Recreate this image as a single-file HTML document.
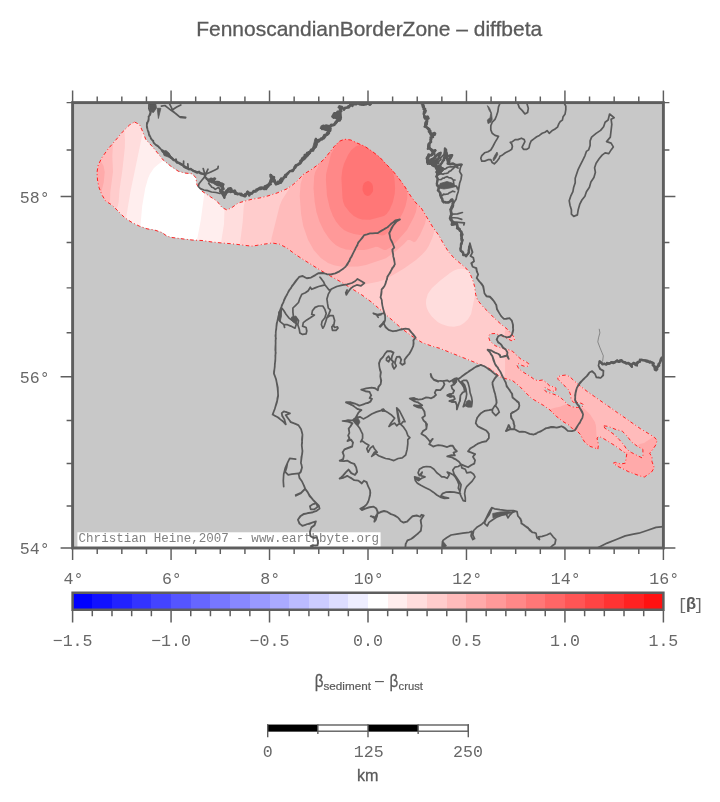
<!DOCTYPE html>
<html><head><meta charset="utf-8"><title>FennoscandianBorderZone – diffbeta</title>
<style>html,body{margin:0;padding:0;background:#fff}body{width:720px;height:802px;overflow:hidden;font-family:"Liberation Sans",sans-serif}</style>
</head><body>
<svg width="720" height="802" viewBox="0 0 720 802" style="display:block;will-change:transform">
<rect width="720" height="802" fill="#fff"/>
<rect x="72.6" y="102.60" width="590.8" height="445.40" fill="#c8c8c8"/>
<defs><clipPath id="rg"><path d="M134.5 122.0 139.5 124.5 142.5 131.2 145.8 139.5 152.0 146.2 158.2 153.8 163.2 160.0 170.8 166.2 178.2 171.2 184.5 173.0 192.0 173.8 195.8 177.5 197.0 185.0 202.0 191.2 209.5 196.2 217.0 201.2 222.0 207.5 227.0 210.0 232.0 207.5 238.2 203.0 247.0 200.5 252.0 199.2 259.5 198.0 267.0 196.2 277.0 193.0 287.0 188.8 293.2 184.5 298.2 180.0 303.2 174.5 310.8 170.0 318.2 164.5 324.5 158.8 329.5 152.5 334.5 146.2 339.5 141.2 344.5 139.2 350.8 140.0 357.0 143.0 364.5 146.2 372.0 151.2 379.5 157.0 385.8 163.8 392.0 170.0 398.2 177.5 404.5 186.2 410.8 196.2 416.0 203.0 421.1 207.8 427.0 217.5 432.8 227.2 438.6 235.0 443.5 243.8 448.3 251.5 454.2 258.3 460.0 263.2 465.8 268.0 469.7 272.9 472.6 279.7 474.6 286.5 475.6 294.3 477.5 300.0 482.5 306.2 488.8 312.5 495.0 318.8 501.2 324.4 507.5 329.4 511.2 333.8 514.4 337.5 514.4 340.0 511.2 340.6 506.2 338.1 501.2 335.6 495.0 333.5 490.0 333.8 488.5 336.9 490.0 341.2 495.0 345.6 501.2 348.1 507.5 349.4 512.5 351.2 516.2 355.0 521.2 359.4 526.2 361.9 528.8 363.8 528.1 366.2 525.0 366.5 521.2 365.2 518.1 363.5 516.9 365.0 518.8 368.8 523.8 372.5 530.0 376.2 535.0 380.0 538.8 380.6 542.5 380.0 546.2 382.5 550.0 386.2 555.0 386.9 556.0 388.8 555.6 391.2 552.5 391.2 548.8 389.8 545.0 387.5 543.8 389.0 546.2 391.9 552.5 393.8 557.5 395.6 561.2 398.1 565.0 401.9 568.1 405.0 572.5 406.9 577.5 407.5 581.9 406.9 583.8 405.6 582.5 403.8 578.8 402.5 573.8 402.5 571.2 400.0 570.6 395.0 568.8 390.0 565.0 386.2 561.2 382.5 558.1 379.4 557.5 376.9 561.2 375.6 566.2 375.0 570.0 376.9 573.8 380.6 580.2 386.0 587.1 391.4 594.7 396.7 602.4 402.1 610.0 407.4 617.6 412.8 625.3 418.1 632.9 423.5 640.6 428.8 648.2 433.4 654.3 437.2 657.1 440.3 655.8 444.9 652.8 449.4 649.7 453.3 652.0 457.1 652.0 461.7 654.3 467.8 651.3 472.4 646.7 475.4 644.4 477.0 640.6 476.2 634.4 473.9 628.3 471.6 622.2 468.5 617.6 466.3 613.1 463.2 615.4 462.4 620.7 464.0 625.3 463.2 626.0 458.6 626.8 454.0 622.2 451.0 616.1 446.4 610.0 442.6 603.9 438.8 599.3 436.5 597.0 438.0 598.5 444.9 597.8 449.4 594.7 447.9 590.1 446.4 585.6 443.3 582.5 438.8 580.2 434.2 576.4 430.4 573.3 429.6 568.8 425.0 562.5 421.2 556.2 416.2 550.0 410.0 543.8 405.6 537.5 401.9 531.2 398.1 525.0 391.9 518.8 385.6 512.5 380.6 506.2 378.8 500.0 376.9 494.2 371.7 488.3 367.8 478.6 363.9 468.9 360.0 459.2 356.1 449.4 352.2 439.7 348.3 432.0 346.2 422.0 342.5 412.0 336.2 402.0 328.8 392.0 320.0 382.0 311.2 372.0 302.5 362.0 295.0 352.0 288.8 342.0 282.5 332.0 277.0 322.0 271.2 312.0 265.0 302.0 258.8 294.5 253.8 287.0 248.0 279.5 244.2 272.0 243.0 262.0 244.5 252.0 246.2 242.0 245.0 232.0 243.8 222.0 243.0 212.0 242.0 202.0 240.5 192.0 240.0 182.0 238.8 172.0 237.5 167.0 236.2 162.0 232.5 154.5 230.0 147.0 228.8 139.5 226.2 132.0 222.5 124.5 217.5 118.2 211.2 112.0 205.0 105.8 201.2 102.0 195.0 99.0 187.5 97.5 180.0 97.0 172.5 98.2 165.0 102.0 157.5 108.2 148.8 115.8 140.0 123.2 131.2 129.5 125.0ZM603.9 425.8 608.5 426.5 616.1 429.6 622.2 431.1 626.8 435.7 631.4 441.8 637.5 446.4 642.9 449.4 642.9 455.6 642.1 457.9 637.5 455.6 631.4 452.5 626.8 449.4 623.8 444.9 619.2 439.5 614.6 434.9 608.5 430.4 604.7 428.1Z" clip-rule="evenodd"/></clipPath><clipPath id="mp"><rect x="72.6" y="102.6" width="590.8" height="445.4"/></clipPath></defs>
<g clip-path="url(#mp)">
<g clip-path="url(#rg)"><path d="M134.5 122.0 139.5 124.5 142.5 131.2 145.8 139.5 152.0 146.2 158.2 153.8 163.2 160.0 170.8 166.2 178.2 171.2 184.5 173.0 192.0 173.8 195.8 177.5 197.0 185.0 202.0 191.2 209.5 196.2 217.0 201.2 222.0 207.5 227.0 210.0 232.0 207.5 238.2 203.0 247.0 200.5 252.0 199.2 259.5 198.0 267.0 196.2 277.0 193.0 287.0 188.8 293.2 184.5 298.2 180.0 303.2 174.5 310.8 170.0 318.2 164.5 324.5 158.8 329.5 152.5 334.5 146.2 339.5 141.2 344.5 139.2 350.8 140.0 357.0 143.0 364.5 146.2 372.0 151.2 379.5 157.0 385.8 163.8 392.0 170.0 398.2 177.5 404.5 186.2 410.8 196.2 416.0 203.0 421.1 207.8 427.0 217.5 432.8 227.2 438.6 235.0 443.5 243.8 448.3 251.5 454.2 258.3 460.0 263.2 465.8 268.0 469.7 272.9 472.6 279.7 474.6 286.5 475.6 294.3 477.5 300.0 482.5 306.2 488.8 312.5 495.0 318.8 501.2 324.4 507.5 329.4 511.2 333.8 514.4 337.5 514.4 340.0 511.2 340.6 506.2 338.1 501.2 335.6 495.0 333.5 490.0 333.8 488.5 336.9 490.0 341.2 495.0 345.6 501.2 348.1 507.5 349.4 512.5 351.2 516.2 355.0 521.2 359.4 526.2 361.9 528.8 363.8 528.1 366.2 525.0 366.5 521.2 365.2 518.1 363.5 516.9 365.0 518.8 368.8 523.8 372.5 530.0 376.2 535.0 380.0 538.8 380.6 542.5 380.0 546.2 382.5 550.0 386.2 555.0 386.9 556.0 388.8 555.6 391.2 552.5 391.2 548.8 389.8 545.0 387.5 543.8 389.0 546.2 391.9 552.5 393.8 557.5 395.6 561.2 398.1 565.0 401.9 568.1 405.0 572.5 406.9 577.5 407.5 581.9 406.9 583.8 405.6 582.5 403.8 578.8 402.5 573.8 402.5 571.2 400.0 570.6 395.0 568.8 390.0 565.0 386.2 561.2 382.5 558.1 379.4 557.5 376.9 561.2 375.6 566.2 375.0 570.0 376.9 573.8 380.6 580.2 386.0 587.1 391.4 594.7 396.7 602.4 402.1 610.0 407.4 617.6 412.8 625.3 418.1 632.9 423.5 640.6 428.8 648.2 433.4 654.3 437.2 657.1 440.3 655.8 444.9 652.8 449.4 649.7 453.3 652.0 457.1 652.0 461.7 654.3 467.8 651.3 472.4 646.7 475.4 644.4 477.0 640.6 476.2 634.4 473.9 628.3 471.6 622.2 468.5 617.6 466.3 613.1 463.2 615.4 462.4 620.7 464.0 625.3 463.2 626.0 458.6 626.8 454.0 622.2 451.0 616.1 446.4 610.0 442.6 603.9 438.8 599.3 436.5 597.0 438.0 598.5 444.9 597.8 449.4 594.7 447.9 590.1 446.4 585.6 443.3 582.5 438.8 580.2 434.2 576.4 430.4 573.3 429.6 568.8 425.0 562.5 421.2 556.2 416.2 550.0 410.0 543.8 405.6 537.5 401.9 531.2 398.1 525.0 391.9 518.8 385.6 512.5 380.6 506.2 378.8 500.0 376.9 494.2 371.7 488.3 367.8 478.6 363.9 468.9 360.0 459.2 356.1 449.4 352.2 439.7 348.3 432.0 346.2 422.0 342.5 412.0 336.2 402.0 328.8 392.0 320.0 382.0 311.2 372.0 302.5 362.0 295.0 352.0 288.8 342.0 282.5 332.0 277.0 322.0 271.2 312.0 265.0 302.0 258.8 294.5 253.8 287.0 248.0 279.5 244.2 272.0 243.0 262.0 244.5 252.0 246.2 242.0 245.0 232.0 243.8 222.0 243.0 212.0 242.0 202.0 240.5 192.0 240.0 182.0 238.8 172.0 237.5 167.0 236.2 162.0 232.5 154.5 230.0 147.0 228.8 139.5 226.2 132.0 222.5 124.5 217.5 118.2 211.2 112.0 205.0 105.8 201.2 102.0 195.0 99.0 187.5 97.5 180.0 97.0 172.5 98.2 165.0 102.0 157.5 108.2 148.8 115.8 140.0 123.2 131.2 129.5 125.0ZM603.9 425.8 608.5 426.5 616.1 429.6 622.2 431.1 626.8 435.7 631.4 441.8 637.5 446.4 642.9 449.4 642.9 455.6 642.1 457.9 637.5 455.6 631.4 452.5 626.8 449.4 623.8 444.9 619.2 439.5 614.6 434.9 608.5 430.4 604.7 428.1Z" fill="#fff" fill-rule="evenodd"/>
<path d="M204.8 190.1 200.8 220.0 197.4 238.0 195.8 242.7 251.9 248.7 272.0 245.5 278.7 246.7 285.7 250.1 300.6 260.8 320.7 273.4 340.7 284.7 360.6 297.1 370.4 304.4 400.5 330.8 410.5 338.2 420.7 344.6 431.1 348.6 438.9 350.7 487.1 370.0 492.7 373.7 498.9 379.1 511.3 382.9 517.1 387.5 529.7 400.1 542.4 407.7 548.4 411.9 554.5 418.0 560.9 423.2 567.2 427.0 571.9 431.7 575.1 432.7 578.1 435.7 580.4 440.2 583.7 444.9 588.9 448.6 597.2 451.8 599.5 451.3 600.2 450.0 601.0 445.1 599.9 439.6 614.7 448.5 624.1 455.2 623.1 461.0 620.9 461.4 615.3 459.9 612.0 460.9 610.9 461.9 610.6 463.4 611.1 464.7 616.3 468.5 627.4 473.9 639.9 478.6 644.4 479.5 645.6 479.2 652.9 474.3 656.4 469.2 656.7 467.1 654.5 461.2 654.4 456.4 652.7 453.5 658.0 446.1 659.6 440.2 659.1 438.8 655.8 435.2 642.0 426.7 588.6 389.4 575.4 378.7 571.4 374.8 566.2 372.5 560.7 373.2 556.5 374.6 555.0 376.5 555.8 380.4 566.6 391.4 568.2 395.6 569.0 401.0 571.4 403.7 569.5 402.9 562.8 396.2 557.5 392.9 558.5 388.4 556.4 384.8 551.2 383.9 547.8 380.6 543.3 377.6 538.8 378.1 536.0 377.6 522.2 368.2 524.9 369.0 529.6 368.2 530.4 367.1 531.2 363.9 530.2 361.7 522.7 357.3 513.8 349.1 508.2 347.0 502.0 345.7 496.3 343.4 492.1 339.8 491.2 337.1 491.6 336.2 494.7 336.0 500.3 337.9 511.5 343.1 516.2 341.8 516.9 340.5 516.9 337.3 516.3 335.9 509.2 327.6 496.7 316.9 484.4 304.6 479.7 298.8 478.0 293.7 477.0 285.8 474.9 278.7 471.8 271.5 467.6 266.2 456.0 256.5 450.3 250.0 440.8 233.8 434.9 225.8 423.1 206.3 417.9 201.3 412.8 194.8 406.6 184.9 400.2 175.9 393.8 168.2 381.2 155.2 365.9 144.2 351.3 137.6 344.3 136.8 338.6 138.9 332.5 144.7 322.7 157.0 316.7 162.6 309.4 167.9 301.8 172.5 291.7 182.5 285.8 186.5 276.1 190.7 266.3 193.8 251.4 196.8 237.4 200.7 230.7 205.4 227.0 207.2 223.6 205.5 218.6 199.3ZM614.3 431.6 620.9 433.4 624.9 437.3 629.7 443.6 636.0 448.4 640.4 450.9 640.4 454.3 632.7 450.3 628.6 447.6 621.1 437.9ZM140.9 229.3 140.6 224.0 142.2 206.0 145.3 188.0 148.0 178.5 150.0 174.0 154.0 168.0 158.0 164.4 165.8 158.8 147.9 138.1 141.4 122.9 134.4 119.5 127.7 123.2 121.4 129.6 106.2 147.3 99.9 156.2 96.0 163.9 94.5 172.7 95.0 180.5 96.6 188.2 99.8 196.1 103.9 202.9 110.4 207.0 123.1 219.6 130.6 224.6 138.4 228.5Z" fill="rgb(255,238,238)" fill-rule="evenodd"/>
<path d="M224.6 206.0 224.0 224.0 220.6 245.4 251.9 248.7 272.0 245.5 278.7 246.7 285.7 250.1 300.7 260.9 320.7 273.4 340.7 284.7 360.6 297.1 370.4 304.4 400.5 330.8 410.5 338.2 420.7 344.6 431.1 348.6 438.9 350.7 487.1 370.0 492.7 373.7 498.9 379.1 511.3 382.9 517.1 387.5 529.7 400.1 542.4 407.7 548.4 411.9 554.5 418.0 560.9 423.2 567.2 427.0 571.9 431.7 575.1 432.7 578.1 435.7 580.4 440.2 583.7 444.9 588.9 448.6 597.2 451.8 599.5 451.3 600.2 450.0 601.0 445.1 599.9 439.6 614.7 448.5 624.1 455.2 623.1 461.0 620.9 461.4 615.3 459.9 612.0 460.9 610.9 461.9 610.6 463.4 611.1 464.7 616.3 468.5 627.4 473.9 639.9 478.6 644.4 479.5 645.6 479.2 652.9 474.3 656.4 469.2 656.7 467.1 654.5 461.2 654.4 456.4 652.7 453.5 658.0 446.1 659.6 440.2 659.1 438.8 655.8 435.2 642.0 426.7 588.6 389.4 575.4 378.7 571.4 374.8 566.2 372.5 560.7 373.2 556.5 374.6 555.0 376.5 555.8 380.4 566.6 391.4 568.2 395.6 569.0 401.0 571.4 403.7 569.5 402.9 562.8 396.2 557.5 392.9 558.5 388.4 556.4 384.8 551.2 383.9 547.8 380.6 543.3 377.6 538.8 378.1 536.0 377.6 522.2 368.2 524.9 369.0 529.6 368.2 530.4 367.1 531.2 363.9 530.2 361.7 522.7 357.3 513.8 349.1 508.2 347.0 502.0 345.7 496.3 343.4 492.1 339.8 491.2 337.1 491.6 336.2 494.7 336.0 500.3 337.9 511.5 343.1 516.2 341.8 516.9 340.5 516.9 337.3 516.3 335.9 509.2 327.6 496.7 316.9 484.4 304.6 479.7 298.8 478.0 293.7 477.0 285.8 474.9 278.7 471.8 271.5 467.6 266.2 456.0 256.5 450.3 250.0 440.8 233.8 434.9 225.8 423.1 206.3 417.9 201.3 412.8 194.8 406.6 184.9 400.2 175.9 393.8 168.2 381.2 155.2 365.9 144.2 351.3 137.6 344.3 136.8 338.6 138.9 332.5 144.7 322.7 157.0 316.7 162.6 309.4 167.9 301.8 172.5 291.7 182.5 285.8 186.5 276.1 190.7 266.3 193.8 251.4 196.8 237.4 200.7 230.7 205.4 227.0 207.2ZM614.3 431.6 620.9 433.4 624.9 437.3 629.7 443.6 636.0 448.4 640.4 450.9 640.4 454.3 632.7 450.3 628.6 447.6 621.1 437.9ZM125.6 221.3 130.4 192.0 143.7 127.9 141.2 122.7 134.7 119.5 133.2 119.9 127.7 123.2 121.4 129.6 106.2 147.3 99.9 156.2 96.0 163.9 94.5 172.4 95.0 180.2 96.6 188.2 99.8 196.1 103.6 202.5 110.4 207.0 122.9 219.4Z" fill="rgb(255,221,221)" fill-rule="evenodd"/>
<path d="M247.1 198.0 244.8 202.0 243.8 206.0 242.7 222.0 239.5 247.2 252.2 248.7 272.0 245.5 278.7 246.7 285.7 250.1 300.7 260.9 320.7 273.4 340.7 284.7 360.6 297.1 370.4 304.4 400.5 330.8 410.5 338.2 420.7 344.6 431.1 348.6 438.9 350.7 487.1 370.0 492.7 373.7 498.9 379.1 511.3 382.9 517.1 387.5 529.7 400.1 542.4 407.7 548.4 411.9 554.5 418.0 560.9 423.2 567.2 427.0 571.9 431.7 575.1 432.7 578.1 435.7 580.4 440.2 583.7 444.9 588.9 448.6 597.2 451.8 599.5 451.3 600.2 450.0 601.0 445.1 599.9 439.6 614.7 448.5 624.1 455.2 623.1 461.0 620.9 461.4 615.3 459.9 612.0 460.9 610.9 461.9 610.6 463.4 611.1 464.7 616.3 468.5 627.4 473.9 639.7 478.5 644.1 479.5 645.6 479.2 653.4 473.8 656.5 469.0 656.8 467.6 654.5 461.2 654.4 456.4 652.7 453.5 658.0 446.1 659.6 440.5 659.1 438.8 655.8 435.2 642.0 426.7 588.6 389.4 575.4 378.7 571.4 374.8 566.2 372.5 560.7 373.2 556.5 374.6 555.0 376.5 555.8 380.4 566.6 391.4 568.2 395.6 569.0 401.0 571.4 403.7 569.5 402.9 562.8 396.2 557.5 392.9 558.5 388.4 556.4 384.8 551.2 383.9 547.8 380.6 543.3 377.6 538.8 378.1 536.0 377.6 522.2 368.2 524.9 369.0 529.6 368.2 530.4 367.1 531.2 363.9 530.2 361.7 522.7 357.3 513.8 349.1 508.2 347.0 502.0 345.7 496.3 343.4 492.1 339.8 491.2 337.1 491.6 336.2 494.7 336.0 500.3 337.9 511.5 343.1 516.2 341.8 516.9 340.5 516.9 337.3 516.3 335.9 509.2 327.6 496.7 316.9 484.4 304.6 479.7 298.8 478.0 293.7 477.0 285.8 474.9 278.7 471.8 271.5 467.6 266.2 456.0 256.5 450.3 250.0 440.8 233.8 434.9 225.8 423.1 206.3 417.9 201.3 412.8 194.8 406.6 184.9 400.2 175.9 393.8 168.2 381.3 155.3 373.4 149.2 365.7 144.1 351.6 137.6 343.6 136.9 337.7 139.5 332.5 144.7 322.7 157.0 316.7 162.6 309.4 167.9 301.8 172.5 291.7 182.5 285.8 186.5 276.1 190.7 266.3 193.8ZM458.0 269.0 462.0 268.7 466.0 269.5 470.0 272.0 472.0 274.5 474.0 279.0 475.1 284.0 475.4 290.0 474.8 296.0 471.1 314.0 468.0 319.3 464.0 323.1 460.0 325.5 454.0 326.7 448.0 326.3 442.0 324.3 438.0 322.2 432.0 316.8 428.6 312.0 426.8 308.0 426.0 304.0 426.1 300.0 427.8 294.0 432.0 288.0 440.0 280.8 450.0 273.0 454.0 270.5ZM614.3 431.6 620.9 433.4 624.9 437.3 629.7 443.6 636.0 448.4 640.4 450.9 640.4 454.3 632.7 450.3 628.6 447.6 621.1 437.9ZM115.4 211.9 117.8 206.0 118.7 202.0 119.5 190.0 122.4 170.0 124.8 148.0 125.0 140.0 124.2 126.8 106.4 147.1 99.9 156.2 95.9 164.1 94.5 172.4 95.0 180.2 96.5 188.0 99.9 196.3 104.1 203.1 110.4 207.0Z" fill="rgb(255,204,204)" fill-rule="evenodd"/>
<path d="M506.5 325.4 504.8 332.0 504.8 340.2 510.8 343.1 515.6 342.2 516.9 340.5 516.6 336.3 509.2 327.6ZM505.0 346.3 505.1 374.0 503.3 380.5 511.3 382.9 517.1 387.5 529.7 400.1 542.4 407.7 548.4 411.9 554.5 418.0 560.9 423.2 567.2 427.0 571.9 431.7 575.1 432.7 578.1 435.7 580.4 440.2 583.7 444.9 588.9 448.6 597.2 451.8 599.5 451.3 600.2 450.0 601.0 445.1 599.9 439.6 614.7 448.5 624.1 455.2 623.1 461.0 620.9 461.4 615.3 459.9 612.0 460.9 610.9 461.9 610.6 463.4 611.1 464.7 616.3 468.5 627.4 473.9 639.7 478.5 644.1 479.5 645.6 479.2 653.2 474.0 656.8 467.8 654.5 461.2 654.4 456.4 652.7 453.5 658.0 446.1 659.6 440.5 659.1 438.8 656.0 435.4 642.0 426.7 588.6 389.4 575.4 378.7 571.4 374.8 566.2 372.5 560.7 373.2 556.5 374.6 555.0 376.5 555.8 380.4 566.6 391.4 568.2 395.6 569.0 401.0 571.4 403.7 569.5 402.9 562.8 396.2 557.5 392.9 558.5 388.4 556.4 384.8 551.2 383.9 547.8 380.6 543.3 377.6 538.8 378.1 536.0 377.6 522.2 368.2 524.9 369.0 529.6 368.2 530.4 367.1 531.2 364.1 530.4 361.9 527.6 359.8 522.7 357.3 513.6 349.0ZM614.3 431.6 620.9 433.4 624.9 437.3 629.7 443.6 636.0 448.4 640.4 450.9 640.4 454.3 632.7 450.3 628.6 447.6 621.1 437.9ZM108.5 205.8 110.1 200.0 110.3 192.0 113.0 172.0 112.3 156.0 113.0 144.0 112.8 139.6 106.2 147.3 99.9 156.2 95.9 164.1 94.5 172.4 95.0 180.2 96.5 188.0 99.8 196.1 104.1 203.1ZM290.0 184.0 288.4 190.0 282.0 200.0 279.6 206.0 271.6 238.0 270.8 245.7 278.7 246.7 285.7 250.1 300.7 260.9 320.8 273.4 346.1 288.0 378.0 281.8 384.0 280.0 388.0 277.9 404.0 268.4 416.0 260.0 422.6 254.0 426.2 250.0 428.7 246.0 432.3 238.0 435.7 226.9 423.1 206.3 417.9 201.3 412.8 194.8 406.6 184.9 400.2 175.9 393.8 168.2 381.0 155.0 365.7 144.1 351.6 137.6 344.3 136.8 337.9 139.3 332.5 144.7 322.7 157.0 316.7 162.6 309.4 167.9 301.6 172.6 296.5 178.2Z" fill="rgb(255,187,187)" fill-rule="evenodd"/>
<path d="M100.2 196.9 103.8 182.0 104.7 172.0 103.6 166.0 100.1 160.0 99.3 157.2 95.8 164.3 94.5 172.7 95.0 180.5 96.6 188.2ZM304.5 170.8 300.6 184.0 299.7 196.0 301.1 214.0 303.2 226.0 308.1 240.0 313.7 250.0 320.8 258.0 328.0 262.9 334.0 265.3 342.0 266.7 358.0 266.6 366.0 265.1 386.0 258.2 396.0 251.0 403.9 244.0 407.6 240.0 410.0 240.0 414.0 242.3 416.0 241.2 420.0 235.1 424.9 224.0 427.4 213.3 423.1 206.3 417.9 201.3 412.8 194.8 400.3 176.0 393.9 168.4 381.2 155.2 365.7 144.1 351.3 137.6 344.3 136.8 338.6 138.9 332.5 144.7 322.7 157.0 316.7 162.6ZM655.8 435.2 644.0 443.1 640.0 444.1 638.0 445.3 638.0 446.2 639.4 448.0 639.7 450.0 639.2 450.2 640.4 450.9 640.4 454.3 635.0 451.5 628.0 452.0 616.3 449.7 624.1 455.2 623.1 461.0 620.9 461.4 614.8 460.0 611.2 461.5 610.6 463.1 611.0 464.5 616.3 468.5 627.4 473.9 639.9 478.6 644.1 479.5 645.8 479.1 653.1 474.2 656.7 468.3 654.5 461.2 654.4 456.4 652.7 453.5 658.0 446.1 659.6 440.0 659.1 438.8ZM600.0 441.3 598.0 438.9 596.5 436.0 596.0 426.0 594.9 422.0 590.0 414.3 584.0 408.6 570.0 404.6 566.0 404.3 560.0 406.8 554.0 408.0 546.5 410.6 554.7 418.2 560.9 423.2 567.2 427.0 571.7 431.5 575.1 432.7 578.1 435.7 580.4 440.2 583.7 444.9 588.9 448.6 597.2 451.8 599.3 451.4 600.2 450.0 601.0 445.1Z" fill="rgb(255,170,170)" fill-rule="evenodd"/>
<path d="M320.6 159.0 319.6 164.0 315.2 172.0 314.2 176.0 313.5 188.0 314.7 202.0 316.4 212.0 319.6 222.0 324.0 231.1 328.7 238.0 332.0 241.8 336.0 245.2 340.0 247.5 346.0 249.5 352.0 250.1 364.0 250.0 368.0 249.3 376.0 246.7 378.0 247.0 384.0 250.0 386.0 250.0 390.0 247.7 396.3 242.0 407.0 230.0 413.4 218.0 415.9 212.0 416.7 208.0 416.9 200.1 412.8 194.8 406.6 184.9 400.2 175.9 393.8 168.2 381.0 155.0 365.7 144.1 351.3 137.6 344.3 136.8 338.1 139.2 332.5 144.7 322.7 157.0ZM655.2 471.0 646.0 476.6 642.0 477.6 637.3 477.6 640.1 478.6 645.1 479.4 652.9 474.3ZM585.1 446.0 582.0 438.6 580.0 436.5 577.1 434.6 583.5 444.7Z" fill="rgb(255,153,153)" fill-rule="evenodd"/>
<path d="M339.9 138.4 331.0 154.0 326.1 174.0 325.9 180.0 327.0 196.0 329.8 208.0 332.9 216.0 336.0 221.4 340.0 226.4 344.0 229.9 348.0 232.0 354.0 233.9 360.0 234.9 374.0 233.6 382.0 235.6 384.0 235.3 386.1 234.0 396.0 223.7 400.0 218.0 403.2 212.0 405.5 206.0 407.3 198.0 406.9 185.4 400.3 176.0 393.8 168.2 381.2 155.2 373.4 149.2 365.7 144.1 351.3 137.6 344.1 136.8Z" fill="rgb(255,136,136)" fill-rule="evenodd"/>
<path d="M363.7 143.2 356.0 146.2 351.3 150.0 348.0 154.9 343.9 164.0 342.3 170.0 341.4 178.0 342.5 198.0 343.2 202.0 344.8 206.0 349.5 212.0 353.8 216.0 358.0 218.3 362.0 219.5 370.0 219.8 384.0 215.9 386.6 214.0 389.5 210.0 392.9 202.0 394.7 194.0 395.1 188.0 394.4 178.0 391.5 166.0 381.3 155.3 365.7 144.1Z" fill="rgb(255,119,119)" fill-rule="evenodd"/>
<path d="M365.3 182.0 364.0 183.2 362.8 186.0 362.5 190.0 364.1 194.0 366.0 195.5 368.0 196.0 370.0 195.3 372.6 192.0 373.1 190.0 372.9 186.0 372.0 183.7 370.0 181.7 368.0 181.1Z" fill="rgb(255,102,102)" fill-rule="evenodd"/>
</g>
<path d="M134.5 122.0 139.5 124.5 142.5 131.2 145.8 139.5 152.0 146.2 158.2 153.8 163.2 160.0 170.8 166.2 178.2 171.2 184.5 173.0 192.0 173.8 195.8 177.5 197.0 185.0 202.0 191.2 209.5 196.2 217.0 201.2 222.0 207.5 227.0 210.0 232.0 207.5 238.2 203.0 247.0 200.5 252.0 199.2 259.5 198.0 267.0 196.2 277.0 193.0 287.0 188.8 293.2 184.5 298.2 180.0 303.2 174.5 310.8 170.0 318.2 164.5 324.5 158.8 329.5 152.5 334.5 146.2 339.5 141.2 344.5 139.2 350.8 140.0 357.0 143.0 364.5 146.2 372.0 151.2 379.5 157.0 385.8 163.8 392.0 170.0 398.2 177.5 404.5 186.2 410.8 196.2 416.0 203.0 421.1 207.8 427.0 217.5 432.8 227.2 438.6 235.0 443.5 243.8 448.3 251.5 454.2 258.3 460.0 263.2 465.8 268.0 469.7 272.9 472.6 279.7 474.6 286.5 475.6 294.3 477.5 300.0 482.5 306.2 488.8 312.5 495.0 318.8 501.2 324.4 507.5 329.4 511.2 333.8 514.4 337.5 514.4 340.0 511.2 340.6 506.2 338.1 501.2 335.6 495.0 333.5 490.0 333.8 488.5 336.9 490.0 341.2 495.0 345.6 501.2 348.1 507.5 349.4 512.5 351.2 516.2 355.0 521.2 359.4 526.2 361.9 528.8 363.8 528.1 366.2 525.0 366.5 521.2 365.2 518.1 363.5 516.9 365.0 518.8 368.8 523.8 372.5 530.0 376.2 535.0 380.0 538.8 380.6 542.5 380.0 546.2 382.5 550.0 386.2 555.0 386.9 556.0 388.8 555.6 391.2 552.5 391.2 548.8 389.8 545.0 387.5 543.8 389.0 546.2 391.9 552.5 393.8 557.5 395.6 561.2 398.1 565.0 401.9 568.1 405.0 572.5 406.9 577.5 407.5 581.9 406.9 583.8 405.6 582.5 403.8 578.8 402.5 573.8 402.5 571.2 400.0 570.6 395.0 568.8 390.0 565.0 386.2 561.2 382.5 558.1 379.4 557.5 376.9 561.2 375.6 566.2 375.0 570.0 376.9 573.8 380.6 580.2 386.0 587.1 391.4 594.7 396.7 602.4 402.1 610.0 407.4 617.6 412.8 625.3 418.1 632.9 423.5 640.6 428.8 648.2 433.4 654.3 437.2 657.1 440.3 655.8 444.9 652.8 449.4 649.7 453.3 652.0 457.1 652.0 461.7 654.3 467.8 651.3 472.4 646.7 475.4 644.4 477.0 640.6 476.2 634.4 473.9 628.3 471.6 622.2 468.5 617.6 466.3 613.1 463.2 615.4 462.4 620.7 464.0 625.3 463.2 626.0 458.6 626.8 454.0 622.2 451.0 616.1 446.4 610.0 442.6 603.9 438.8 599.3 436.5 597.0 438.0 598.5 444.9 597.8 449.4 594.7 447.9 590.1 446.4 585.6 443.3 582.5 438.8 580.2 434.2 576.4 430.4 573.3 429.6 568.8 425.0 562.5 421.2 556.2 416.2 550.0 410.0 543.8 405.6 537.5 401.9 531.2 398.1 525.0 391.9 518.8 385.6 512.5 380.6 506.2 378.8 500.0 376.9 494.2 371.7 488.3 367.8 478.6 363.9 468.9 360.0 459.2 356.1 449.4 352.2 439.7 348.3 432.0 346.2 422.0 342.5 412.0 336.2 402.0 328.8 392.0 320.0 382.0 311.2 372.0 302.5 362.0 295.0 352.0 288.8 342.0 282.5 332.0 277.0 322.0 271.2 312.0 265.0 302.0 258.8 294.5 253.8 287.0 248.0 279.5 244.2 272.0 243.0 262.0 244.5 252.0 246.2 242.0 245.0 232.0 243.8 222.0 243.0 212.0 242.0 202.0 240.5 192.0 240.0 182.0 238.8 172.0 237.5 167.0 236.2 162.0 232.5 154.5 230.0 147.0 228.8 139.5 226.2 132.0 222.5 124.5 217.5 118.2 211.2 112.0 205.0 105.8 201.2 102.0 195.0 99.0 187.5 97.5 180.0 97.0 172.5 98.2 165.0 102.0 157.5 108.2 148.8 115.8 140.0 123.2 131.2 129.5 125.0ZM603.9 425.8 608.5 426.5 616.1 429.6 622.2 431.1 626.8 435.7 631.4 441.8 637.5 446.4 642.9 449.4 642.9 455.6 642.1 457.9 637.5 455.6 631.4 452.5 626.8 449.4 623.8 444.9 619.2 439.5 614.6 434.9 608.5 430.4 604.7 428.1Z" fill="none" stroke="#ff1010" stroke-width="0.9" stroke-dasharray="3.6 2.4 0.9 2.4" stroke-linejoin="round"/>
<rect x="77.4" y="532.3" width="303.2" height="14.5" fill="#fff"/>
<text x="78.6" y="542.4" font-family="Liberation Mono, monospace" font-size="12.6" fill="#808080" textLength="300.5" lengthAdjust="spacingAndGlyphs">Christian Heine,2007 - www.earthbyte.org</text>
<path d="M149.0 103.5 148.9 108.3 150.3 112.5 148.9 116.7 148.2 120.8 146.8 125.0 147.5 129.2 148.9 134.0 151.0 138.2 153.8 142.4 155.8 145.1 159.3 147.2 162.1 150.7 164.9 153.5 168.3 154.9 171.1 156.9 173.9 159.7 177.4 162.5 180.8 164.6 184.3 166.0 187.8 168.1 191.9 170.1 196.1 171.5 200.3 172.9 204.4 174.3 205.3 175.4M149.3 103.5 148.9 105.1 149.1 106.7 148.8 108.3 149.5 110.4 150.8 112.7 150.2 114.8 148.5 116.6 148.8 118.8 148.5 120.9 146.9 122.7 146.8 125.0 146.8 127.2 147.5 129.2 147.8 130.8 148.8 132.3 148.8 134.1 149.2 135.6 150.3 136.8 150.8 138.4 151.7 139.7 153.3 140.7 153.5 142.6 154.7 143.8 155.9 144.9 157.8 145.7 159.0 147.5 160.7 148.9 161.9 150.9 163.2 152.4 164.9 153.5M161.4 106.2 164.9 105.5 167.6 107.6 171.1 110.4 175.3 113.2 179.4 116.7 185.7 117.4M171.6 110.0 175.9 113.9 180.2 117.3 185.5 118.0M172.5 109.7 176.7 107.0 180.8 104.9M169.7 104.2 171.8 108.3M183.6 161.1 183.6 165.3M187.8 163.9 188.2 168.0M203.2 168.5 204.6 173.3M208.0 169.2 206.0 173.3M176.0 159.0 177.0 163.0M204.4 175.0 207.2 173.6 210.8 171.9 215.0 169.9 217.8 168.5 218.2 166.4M205.3 176.1 201.8 180.3 199.0 183.8 198.3 186.5 200.4 188.6 203.9 190.0 208.0 190.7 211.5 192.0 216.0 192.5 220.0 193.5M208.0 180.3 214.3 178.2 212.2 181.7 216.4 184.4 219.9 183.0 223.3 184.4 222.6 187.9 219.9 191.4 223.3 194.2 224.0 197.6 225.4 194.2 226.8 190.7 229.6 188.6 231.7 192.0 234.4 190.7 235.8 193.5 239.3 194.2 242.8 194.9 245.6 196.2 246.9 192.0 249.0 194.9 251.8 193.5 253.9 191.4 256.7 190.0 260.1 188.6 263.6 187.9 266.4 189.3 267.8 185.8 269.9 183.0 271.9 180.3 270.6 174.7 273.3 177.5 274.7 181.7 276.8 184.4 278.9 181.7 281.0 183.0 282.4 178.9 285.8 176.8 287.9 173.3 290.0 171.2M208.7 183.3 209.7 184.7 210.8 185.8 211.8 187.2 213.6 187.8 215.3 189.4 218.4 187.4 220.0 189.4 221.0 191.3 223.0 191.4 223.8 193.2 225.8 191.6 227.5 192.6 228.9 191.6 230.5 192.4 232.0 192.0M211.8 181.9 213.5 182.3 215.3 181.6 217.5 181.5 219.1 181.9 218.7 184.3 220.1 184.9 220.4 186.6 222.3 186.7 222.4 188.6 224.0 189.0M261.6 188.3 264.1 189.5 264.5 186.5 266.8 187.3 267.0 185.2 268.4 184.3 271.2 184.4 270.3 181.7 271.8 181.4 273.7 181.6 275.4 182.2 277.0 183.0 277.7 181.4 280.0 182.2 279.9 179.6 281.4 179.1 283.0 179.0M290.0 171.2 293.6 169.4 296.4 166.0 299.2 163.9 301.9 160.4 304.7 156.9 307.5 153.5 311.0 151.4 314.4 148.6 316.5 144.4 315.8 138.9 317.9 141.7 321.4 138.9 324.9 135.4 328.3 132.6 330.4 129.9 325.6 129.2 321.4 128.5 323.5 126.4 328.3 126.4 331.8 125.7 335.3 123.6 338.0 120.8 340.8 118.0 336.7 117.4 332.5 116.7 334.6 113.9 338.0 112.5 341.5 111.1 339.4 106.2 343.6 109.0 347.0 107.6 350.6 105.6 353.3 104.2 357.5 103.5 361.7 104.9 365.8 104.2 371.0 103.6M270.0 181.9 272.8 177.8 271.4 175.0 275.6 184.7 278.3 183.3M422.5 103.5 423.2 106.9 425.3 110.4 423.9 113.9 424.6 118.0 428.0 116.7 426.7 120.8 425.3 125.7 428.0 127.8 429.4 131.2 430.8 134.7 435.0 133.3 431.5 137.5 430.8 141.7 428.8 144.4 428.0 147.9 430.8 148.6 432.2 151.4 435.7 150.7 432.2 154.2 429.4 155.6 428.0 159.0 427.4 163.2 429.4 161.8 432.2 159.7 435.0 156.9 437.8 154.9 440.6 152.8 438.5 156.9 437.1 161.1 435.7 165.3 437.8 168.0 439.9 165.3 441.9 162.5 444.0 158.3 444.7 154.2 444.7 148.6 446.8 152.8 447.5 156.9 448.9 155.6 451.7 154.9 450.3 158.3 448.9 161.1 447.5 163.9 450.3 164.6 453.0 163.9 457.2 165.3 461.7 164.6M428.3 154.2 426.9 158.3 426.9 162.5 431.1 163.9 435.3 166.7 437.4 170.8 436.7 175.0 437.4 179.2 436.7 183.3 438.8 186.8 438.0 190.3 440.8 193.0 440.8 197.2 442.9 200.7 445.7 202.8 449.9 201.4 452.6 199.3 453.3 203.5 451.9 206.9 450.6 211.1 451.9 214.6 450.6 218.0 452.6 221.5 451.9 225.0 456.1 223.6 457.5 227.8 460.3 230.6 461.7 234.7 462.2 240.0 461.5 244.0 460.8 246.7 460.8 250.8 463.6 254.3 466.4 256.4 468.5 252.2 469.2 246.7 469.9 243.2 471.2 248.0 472.6 252.2 470.6 255.7 473.3 257.8 474.0 261.2 471.2 263.3 472.6 266.8 476.1 268.2 476.8 271.7 478.2 274.4 476.8 277.9 478.9 280.7 481.0 283.5 483.0 286.2 483.8 289.7 484.4 293.2 486.5 296.0 490.0 296.7 492.1 298.8 494.2 301.5 496.2 305.0 496.9 309.2 499.0 312.6 501.1 316.1 503.9 318.9 506.2 318.8 509.4 318.1 511.9 320.6 513.1 325.0 513.1 330.0 511.9 334.4 510.0 336.9 506.9 337.5 503.8 336.2 501.2 335.0 498.1 336.2 496.9 339.4 498.1 342.5 501.2 344.4 503.1 347.5 505.6 349.4 507.5 352.5 506.9 355.0 508.8 358.8 506.9 355.5 503.8 356.2 500.6 357.2 500.0 355.0 498.1 353.8 495.0 352.5 491.2 350.6 487.5 349.8 490.0 352.5 492.5 356.2 493.8 360.0 495.0 363.8 497.5 367.5 500.0 371.2 501.9 375.0 503.8 378.8 505.6 382.5 506.9 386.2 509.4 390.0 511.9 393.8 512.5 397.5 515.6 400.0 518.8 402.5 519.4 405.6 518.5 408.9 514.3 411.7 510.8 413.8 511.5 417.9 513.6 421.4 514.3 425.6 514.3 429.0 510.8 429.0 506.0 431.1 508.8 424.9 510.8 429.0 514.3 429.0 519.2 431.8 524.7 431.8 529.6 433.9 533.8 434.6 537.9 432.5 542.1 430.4 546.2 428.3 551.1 426.9 556.7 427.6 561.5 426.2 565.0 428.3 567.8 430.8 571.9 431.1 574.7 430.4 576.8 426.9 579.6 422.8 582.4 417.9 583.1 414.4 581.0 410.3 578.9 406.1 576.1 402.6 574.9 400.0 575.6 393.3 576.9 387.8 579.7 383.6 583.2 379.4 586.7 376.0 589.4 372.5 592.2 371.1 595.0 373.9 596.4 377.4 600.6 378.0 603.3 375.3 603.3 371.1 599.9 369.0 598.5 365.6 599.2 362.1 602.6 363.5 606.1 364.2 609.6 362.8 613.1 362.1 617.2 361.4 621.4 361.1 625.6 362.1 629.0 364.2 631.1 366.2 633.2 363.5 636.7 365.6 638.1 362.1 641.5 359.3 645.7 360.7 649.9 362.1 653.3 363.5 654.7 368.3 656.1 370.4 658.9 365.6 661.0 360.7 663.4 357.0M599.1 362.2 600.8 363.0 602.5 364.1 604.4 363.4 606.2 364.5 608.1 364.2 609.8 363.6 611.2 361.8 613.2 362.4 615.2 362.0 617.2 361.4 619.4 362.2 621.4 361.2 623.5 361.5 625.1 362.9 627.2 363.4 629.3 363.9 630.8 366.0 632.1 364.9 633.7 362.7 634.8 364.7 637.1 365.8 637.3 363.8 638.5 362.6 640.3 361.4 641.5 359.4 643.5 360.3 645.9 360.0 648.1 360.6 649.5 363.0 651.8 362.4 653.9 363.3 653.0 365.3 653.8 366.8 655.3 367.9 655.8 370.2 656.6 368.5 657.6 367.0 658.0 365.2 659.6 364.0 659.9 362.2 660.8 360.6 661.7 358.5 663.4 357.0M469.9 243.2 470.5 245.6 471.0 248.1 471.6 250.2 472.3 252.0 471.7 254.0 470.4 256.0 473.4 257.8 474.1 261.4 471.6 263.2 472.6 266.8 476.4 268.1 477.0 271.6 478.1 274.4 476.6 278.0 478.7 280.8 481.3 283.3 483.3 286.2 483.9 289.7 484.4 293.2 486.4 296.3 489.8 296.9 491.8 299.0 494.1 301.5 495.1 303.3 496.4 305.0 496.7 307.1 497.1 309.1 499.0 312.6 500.0 314.4 501.1 316.1 503.9 318.8 506.2 318.7 509.5 318.0 511.7 320.7 512.4 322.8 512.9 325.0 512.9 327.5 513.3 330.0 512.8 332.3 512.0 334.5 509.9 336.6 507.0 337.3 503.7 336.3 501.2 334.8 498.2 336.3 496.6 339.5 498.3 342.2 501.1 344.5 502.9 347.8 505.7 349.4 507.5 352.5 507.2 354.9 508.0 356.8 508.6 358.9 506.9 355.7 503.8 356.6 500.4 357.2 499.8 355.3 498.1 353.7 495.0 352.6 493.0 351.7 491.3 350.3 487.6 349.6 490.0 352.5 491.0 354.6 492.3 356.3 493.4 360.1 494.9 363.8 496.0 365.8 497.8 367.3 498.6 369.5 500.1 371.2 501.1 373.1 501.7 375.1 502.7 377.0 503.9 378.7 504.8 380.6 505.8 382.4 506.6 386.4 508.1 388.2 509.6 389.9 510.6 391.9 512.2 393.7 512.6 397.4 515.6 400.0 516.9 401.5 518.5 402.6 519.4 405.6 518.4 408.7 516.5 410.5 514.2 411.6 512.3 412.4 511.1 413.7 510.8 415.9 511.2 418.1 512.6 419.6 513.4 421.4 513.6 423.6 514.6 425.6 514.3 429.0 510.8 428.9 508.3 429.8 505.8 431.0 507.1 429.1 508.0 427.0 508.5 425.0 509.6 427.0 510.8 429.3 514.3 429.1 516.7 430.4 519.2 431.8 522.0 431.7 524.7 431.8 527.2 432.8 529.6 433.8 531.7 434.0 533.7 434.5 536.0 433.9 537.8 432.4 540.2 431.8 542.2 430.6 544.2 429.3 546.2 428.1 548.8 427.9 551.1 427.3 553.9 427.1 556.7 427.7 559.2 427.1 561.5 426.3 563.4 427.0 565.1 428.1 567.8 431.0 569.8 431.1 571.9 431.2 574.5 430.3 576.0 428.8 577.0 427.0 578.2 424.8 579.8 422.9 580.9 420.3 582.4 417.9 583.1 414.4 582.4 412.2 581.3 410.1 579.8 408.3 579.1 406.0 577.4 404.5 576.4 402.5 575.2 400.0 575.3 397.8 575.0 395.5 575.4 393.3 576.0 390.5 576.9 387.8 578.0 385.5 579.4 383.4 581.2 381.3 583.4 379.6 585.0 377.8 586.9 376.2 588.3 374.5 589.4 372.5 592.0 371.3 595.0 373.9 596.4 377.5 598.5 377.4 600.6 378.0 603.0 375.3 603.3 373.2 603.5 370.8 600.3 368.9 598.5 365.6M449.9 163.9 454.7 164.6 461.7 164.6 460.3 168.0 459.6 171.5 461.7 175.0 461.0 179.2 459.6 183.3 458.9 187.5 458.2 191.7 456.8 195.8 456.1 199.3 453.3 203.5M437.9 174.8 439.5 174.1 441.1 173.6 443.0 174.3 444.6 173.5 446.2 173.4 447.9 173.0 449.0 171.6 450.8 170.8 452.0 169.5 453.6 168.4 454.7 166.7M438.1 187.8 439.1 186.0 440.7 186.3 442.0 185.8 443.7 186.7 445.3 186.2 447.0 186.3 448.1 184.1 450.0 184.5 451.8 184.1 453.3 185.0 454.7 186.1 456.4 186.2 457.1 187.5 457.5 188.9M440.5 194.9 442.3 195.7 443.4 194.2 445.0 194.3 446.5 194.2 448.0 194.0 449.2 192.8 450.6 192.4 452.5 191.1 454.7 191.7M453.3 179.9 454.0 186.1M445.0 151.4 446.4 158.3 447.8 162.5M433.9 150.0 435.3 156.9 438.0 163.9M450.6 155.6 447.8 161.1M451.0 214.2 457.5 213.9 462.4 212.5M451.0 217.5 457.5 218.0 461.7 219.4M452.5 222.0 456.1 222.2 464.4 222.9 463.8 225.0M438.1 165.8 439.4 166.9 440.4 168.2 442.5 167.8 443.9 168.7 444.5 169.2 446.0 168.5 447.3 167.5 448.9 167.0 450.6 166.8 451.7 166.9 453.4 166.9 455.1 166.8 456.6 167.3 458.0 168.0M439.8 179.6 441.4 179.5 442.5 178.2 444.1 178.2 445.3 177.2 447.3 176.6 448.7 177.6 450.4 177.8 451.9 178.6 453.3 180.0 455.0 180.0M438.7 163.4 438.6 161.6 439.7 160.6 440.9 159.6 440.5 157.7 441.8 156.8 442.6 155.6 444.0 154.7 444.9 152.7 445.3 153.9 445.3 155.4 444.9 157.0 445.5 158.5 447.5 158.5 447.4 160.6 449.0 161.0M499.9 103.5 498.5 106.9 497.8 111.8 496.4 116.0 495.0 119.4 492.2 122.2 490.8 125.7 490.8 129.9 492.2 133.3 495.0 135.4 498.5 136.4 497.1 138.9 495.0 142.4 492.9 146.5 490.8 150.0 488.0 151.7 484.6 152.8 481.8 155.6 480.8 158.3 481.8 161.1 484.6 161.1 488.0 159.7 490.8 159.7 492.2 162.5 494.3 163.9 497.1 161.1 499.2 158.3 499.9 156.2 502.6 154.9 505.4 152.8 508.9 151.1 511.7 149.3 512.4 146.5 511.7 143.8 510.3 142.4 512.4 141.7 515.1 139.6 517.9 139.6 521.4 138.2 524.2 139.6 524.9 141.7 523.5 144.4 522.1 147.2 523.5 149.3 526.9 149.3 529.0 147.9 529.7 144.4 531.1 141.0 533.9 138.9 536.7 136.8 539.4 135.4 542.2 133.3 545.0 132.2 547.1 130.6 549.2 133.3 551.9 130.8 554.7 129.2 557.5 127.1 558.9 123.6 560.3 121.5 562.4 120.1 563.1 116.7 565.1 113.9 565.8 109.7 565.8 106.2 564.4 103.5M517.9 103.6 519.3 107.6 522.1 110.4 524.9 113.9 527.6 112.5 528.3 108.3 526.9 103.6M609.6 114.0 614.1 117.7 611.1 119.2 611.8 124.4 611.1 130.4 610.3 137.1 606.6 141.6 611.1 143.1 613.3 146.9 611.1 149.9 608.8 153.6 605.1 152.9 602.1 155.1 599.1 158.8 596.1 163.3 594.6 167.8 595.4 172.3 593.9 177.5 590.9 182.0 589.4 187.2 586.4 191.7 584.9 196.2 581.9 200.0 579.7 204.4 578.2 209.7 577.4 214.9 573.7 216.4 571.4 214.2 571.4 209.7 570.0 205.2 569.2 200.7 570.7 196.2 572.9 191.7 573.7 187.2 575.2 182.8 575.2 178.3 576.7 173.8 578.2 169.3 580.4 164.8 582.7 160.3 584.9 155.8 586.4 151.4 588.6 149.9 590.1 145.4 590.1 140.9 591.6 137.1 596.1 133.4 600.6 130.4 603.6 126.7 605.1 122.2 608.1 120.0ZM314.4 548.0 310.7 546.0 312.9 545.3 317.4 545.3 318.1 540.8 316.6 537.0 313.7 537.8 310.7 536.3 309.9 531.8 311.4 527.3 314.4 525.1 315.9 521.3 311.4 522.8 306.9 524.3 302.4 525.8 299.4 523.6 297.9 519.8 300.2 516.1 303.9 513.8 308.4 513.1 312.9 512.3 316.6 510.8 319.6 508.6 318.9 505.6 315.9 502.6 312.9 499.6 309.9 495.9 307.7 492.1 305.4 489.1 303.9 485.4 301.7 480.9 299.4 477.9 298.7 474.2 300.9 471.9 302.1 467.4 300.9 462.9 301.7 456.9 302.4 451.0 301.7 445.0 302.2 440.0 302.5 434.7 301.1 429.2 298.3 425.0 294.9 423.6 290.7 422.2 289.3 420.1 285.8 415.3 290.0 413.2 283.8 411.4 281.7 413.2 282.4 416.0 284.4 419.4 285.8 424.3 283.8 422.2 280.3 419.4 276.8 416.7 272.6 414.6 274.7 409.0 276.8 402.8 278.2 395.8 277.5 387.5 276.1 379.2 274.0 373.6 274.7 366.7 275.4 358.3 275.6 350.0 275.6 342.8 275.8 331.7 276.9 323.3 278.3 316.4 280.4 309.4 283.2 302.5 286.7 294.9 290.8 287.9 295.0 282.4 299.2 276.8 302.6 276.1 306.8 278.2 311.0 277.5 314.4 275.4 318.6 273.3 322.8 273.1 326.9 274.0 331.1 274.7 335.3 273.3 339.4 271.2 343.6 268.5 347.1 265.0 352.5 254.4 358.3 242.8 364.2 235.0 370.0 233.5 377.8 233.0 387.5 227.2 395.3 220.4 400.0 219.4 396.5 221.5 393.3 225.3 389.4 233.0 390.4 238.9 392.5 243.0 394.3 247.6 392.5 249.5 393.3 256.4 394.9 264.2 391.4 270.0 387.5 276.8 385.6 283.6 384.5 286.0 381.7 289.4 380.7 297.2 381.7 300.0 382.4 305.6 383.8 311.1 385.1 315.3 385.1 320.1 383.8 323.6 385.8 327.1 388.6 329.9 392.8 331.2 396.9 330.8 401.1 329.4 405.3 328.5 408.8 329.2 410.8 331.9 413.6 334.7 415.7 337.5 413.6 340.3 413.3 345.8 411.5 350.0 409.4 353.5 406.7 356.9 404.6 359.7 404.6 363.2 402.5 364.6 400.4 363.2 401.1 359.7 399.7 356.9 396.9 356.9 395.6 359.7 394.9 363.2 396.2 366.0 394.2 368.8 392.8 366.7 392.1 363.9 393.5 361.8 391.4 359.7 392.1 356.2 393.5 352.8 390.7 351.4 387.2 351.4 385.1 353.5 383.1 356.9 380.3 359.7 378.9 363.2 379.6 368.0 381.0 372.2 380.3 376.4 381.0 380.6 380.7 384.2 378.6 386.9 377.9 390.4 375.1 388.3 371.7 387.6 366.1 388.3 361.2 389.7 365.4 391.1 369.6 391.8 371.0 395.3 369.6 398.1 371.7 398.8 370.3 401.5 367.5 402.9 363.3 404.3 359.2 405.7 355.0 403.6 350.8 402.2 346.0 402.2 350.8 404.3 355.0 407.1 357.8 409.2 361.2 409.9 358.5 412.6 357.1 415.4 355.7 418.2 352.9 420.3 348.1 420.3 342.5 421.0 348.1 421.7 352.2 423.1 350.8 425.8 348.8 428.6 349.4 432.8 348.1 435.6 349.4 438.3 347.4 441.1 350.8 439.7 352.9 442.5 352.2 446.7 348.1 448.1 344.6 449.4 342.5 452.2 343.9 455.7 343.2 459.2 339.7 460.6 343.9 461.2 347.2 460.6 350.7 462.6 354.2 464.0 356.2 467.5 356.9 471.7 354.9 475.1 351.4 473.1 348.6 469.6 345.8 472.4 343.1 475.8 339.6 478.6 343.1 477.9 347.2 475.8 350.7 477.9 354.2 480.0 358.3 480.7 361.8 483.5 363.9 480.7 366.7 482.1 368.1 486.2 370.1 490.4 370.1 495.3 368.8 500.1 366.7 504.3 363.9 507.1 360.4 508.5 361.8 509.9 365.3 508.5 369.4 507.1 373.6 506.7 376.4 508.5 377.8 511.9 377.1 516.1 375.7 519.6 374.3 521.7 375.0 518.2 370.8 516.1 375.0 517.5 377.8 513.3 380.6 511.9 384.0 510.8 387.5 511.9 391.0 514.0 394.4 515.4 397.9 517.5 400.7 521.0 403.5 522.4 406.9 521.7 409.7 518.9 412.5 516.1 416.7 515.4 420.1 516.8 421.5 514.7 423.6 515.4 422.2 517.5 420.8 520.3 421.5 525.8 420.8 530.7 418.1 533.5 414.6 536.2 411.1 539.0 407.6 540.4 405.6 543.9 405.3 548.0M314.3 548.1 310.7 546.1 312.9 545.0 315.1 545.6 317.6 545.3 318.1 543.1 317.9 540.9 316.7 537.2 313.6 538.1 310.5 536.3 310.0 534.1 310.0 531.8 310.6 529.5 311.5 527.5 314.6 525.2 315.9 521.4 313.7 522.3 311.4 522.9 309.3 523.9 306.9 524.2 304.7 525.3 302.3 526.0 299.7 523.5 297.9 519.8 300.4 516.4 304.0 514.1 306.2 513.6 308.4 512.9 310.6 512.5 312.8 512.1 316.7 510.9 319.6 508.6 318.8 505.7 315.7 502.8 312.8 499.7 311.3 497.8 309.6 496.1 307.6 492.2 305.3 489.2 303.8 485.4 302.8 483.2 301.7 480.9 299.6 477.9 298.6 474.1 300.6 471.8 301.4 469.6 301.9 467.5 301.6 465.1 300.9 462.9 301.2 459.9 301.4 456.9 302.2 454.0 302.5 451.0 302.1 448.0 301.8 445.0 302.2 442.5 301.9 440.0 302.1 437.3 302.5 434.7 301.9 431.9 301.1 429.2 299.7 427.1 298.2 425.1 294.8 423.8 292.9 422.7 291.0 422.0 289.3 420.1 287.5 417.7 285.7 415.1 287.9 414.3 289.9 413.4 286.9 412.2 283.9 411.5 281.7 413.2 282.2 416.1 284.5 419.4 285.1 421.9 285.7 424.4 283.7 422.2 282.2 420.6 280.3 419.4 278.7 417.8 276.8 416.8 274.7 415.7 272.7 414.6 273.7 411.8 274.8 409.0 275.6 405.9 276.5 402.7 277.2 400.5 277.4 398.1 278.0 395.8 278.0 393.0 277.9 390.3 277.8 387.5 277.2 384.7 276.6 382.0 276.0 379.2 275.0 376.4 273.9 373.6 274.0 371.3 274.5 369.0 274.8 366.7 274.8 363.9 275.3 361.1 275.4 358.3 275.3 355.5 275.8 352.8 275.3 350.0 275.4 347.6 275.5 345.2 275.7 342.8 275.5 340.6 276.0 338.4 275.4 336.1 275.7 333.9 275.8 331.7 276.3 328.9 276.4 326.1 276.7 323.3 277.5 321.0 278.0 318.7 278.4 316.4 279.3 314.1 279.6 311.7 280.4 309.4 281.3 307.1 282.0 304.7 283.4 302.6 284.1 299.8 285.3 297.3 286.9 295.0 288.0 292.5 289.2 290.1 291.0 288.1 292.0 285.9 293.6 284.2 294.7 282.2 296.2 280.4 297.8 278.7 299.2 276.9 302.7 275.9 304.6 277.3 306.8 278.3 311.1 277.6 314.5 275.7 316.5 274.3 318.6 273.0 322.9 272.8 326.9 274.3 331.0 274.4 333.1 273.8 335.3 273.4 337.4 272.4 339.5 271.4 341.5 269.9 343.5 268.4 345.5 266.9 346.8 264.8 348.0 262.8 349.6 260.9 350.1 258.5 351.6 256.6 352.6 254.4 353.7 252.1 354.9 249.8 355.9 247.4 357.4 245.2 358.1 242.6 359.7 240.8 361.4 239.0 362.9 237.1 364.2 235.1 367.1 234.4 370.0 233.4 372.6 233.4 375.2 233.2 377.9 233.2 379.6 231.7 381.6 230.5 383.6 229.4 385.5 228.2 387.6 227.3 389.4 225.5 391.2 223.6 393.5 222.3 395.3 220.4 397.7 220.1 399.9 219.3 396.6 221.5 395.0 223.5 393.3 225.3 391.7 227.7 390.5 230.3 389.1 233.1 389.9 236.0 390.4 238.9 391.6 240.9 392.5 243.0 393.4 245.3 394.2 247.5 392.3 249.5 392.5 251.8 393.2 254.1 393.2 256.4 394.1 258.9 394.5 261.6 394.8 264.2 394.0 266.3 392.3 267.9 391.4 270.0 390.3 272.4 388.8 274.6 387.3 276.8 387.1 279.1 386.0 281.3 385.5 283.6 384.5 286.0 383.3 287.8 381.6 289.4 381.6 292.0 381.3 294.6 380.5 297.3 381.8 300.0 381.9 302.8 382.4 305.6 383.0 308.4 383.8 311.1 384.2 313.3 384.9 315.3 385.2 317.7 385.1 320.1 383.9 323.5 385.6 327.3 388.6 329.9 390.7 330.6 392.8 331.3 396.8 330.5 399.0 330.0 401.1 329.6 405.3 328.6 408.9 329.1 411.0 331.7 413.4 334.9 415.5 337.4 413.3 340.3 413.7 343.1 413.3 345.8 412.4 347.9 411.5 350.0 409.5 353.6 406.6 356.8 404.5 359.7 404.8 363.4 402.3 364.9 400.2 363.2 401.3 359.6 399.7 356.6 396.8 356.8 395.7 359.7 394.9 363.2 396.2 365.9 394.0 368.9 393.1 366.6 392.3 364.1 393.3 362.0 391.2 359.7 392.0 356.2 393.6 352.6 390.7 351.1 387.0 351.2 385.1 353.5 383.1 356.9 380.5 359.8 379.2 363.2 379.2 365.6 379.6 368.0 380.0 370.2 380.7 372.2 380.3 376.4 381.3 380.6 380.7 384.2 378.3 386.8 377.9 390.4 375.1 388.2 371.7 387.6 368.9 388.0 366.1 388.4 363.7 389.2 361.3 389.7 365.4 391.3 369.4 391.9 371.3 395.4 369.7 397.9 372.0 398.9 370.4 401.8 367.6 403.2 365.3 403.4 363.4 404.5 359.3 405.6 357.2 404.4 354.9 403.8 352.8 403.1 350.8 402.5 348.4 402.5 345.9 402.5 348.3 403.5 350.6 404.6 353.0 405.5 355.0 407.1 357.8 409.2 361.5 410.1 358.4 412.6 356.9 415.3 355.5 418.0 352.9 420.0 350.5 420.4 348.1 420.1 345.3 420.9 342.5 421.0 345.3 421.1 348.2 421.4 352.5 423.2 350.9 425.9 348.6 428.6 349.4 432.8 348.3 435.5 349.5 438.4 347.4 441.0 351.0 439.5 353.1 442.5 352.1 446.4 348.0 447.9 344.5 449.3 342.8 452.1 343.9 455.7 343.1 459.0 339.7 460.8 343.9 461.1 347.2 460.5 350.7 462.7 354.4 463.9 356.2 467.5 357.2 471.9 355.0 474.9 351.2 473.2 349.9 471.4 348.5 469.5 345.7 472.4 342.9 475.5 341.3 477.1 339.6 478.4 343.0 477.7 345.2 477.0 347.1 475.9 350.8 477.7 354.2 480.2 358.4 480.6 360.2 481.9 361.6 483.4 363.9 480.7 366.5 482.2 368.1 486.3 369.2 488.3 370.0 490.4 370.4 492.9 369.9 495.3 369.3 497.7 368.8 500.1 368.0 502.3 366.7 504.3 363.8 506.8 360.2 508.7 361.9 510.1 365.3 508.6 369.4 507.4 373.7 506.6 376.2 508.6 377.5 511.9 376.9 516.0 375.9 519.7 374.4 521.7 374.9 518.5 372.8 517.3 370.7 516.3 373.0 516.6 375.1 517.6 376.2 515.3 377.9 513.6 380.7 512.2 383.9 511.1 387.5 512.0 390.9 514.3 394.5 515.2 397.9 517.5 399.5 519.1 400.7 521.1 403.6 522.7 407.0 521.8 409.8 519.0 412.5 516.4 416.6 515.6 420.2 516.8 421.4 514.9 423.8 515.5 422.4 517.6 420.6 520.3 421.0 523.1 421.6 525.8 421.2 528.3 420.9 530.8 418.0 533.3 416.4 534.9 414.7 536.3 413.0 537.8 411.1 539.0 407.4 540.3 405.8 543.9 405.3 548.0M295.7 459.2 289.7 458.4 287.5 462.9 285.2 468.2 283.7 474.2 283.3 480.9 283.7 486.6M287.5 462.9 286.5 468.0 285.2 471.9 288.2 474.9 291.9 474.2 298.7 473.4M304.7 489.1 300.9 492.9 295.7 495.1M304.2 489.9 300.5 493.6 295.9 495.8M316.6 503.4 312.9 504.1 309.9 506.3 310.7 509.3 314.4 509.3 317.4 507.1ZM373.3 313.2 377.5 314.6 381.0 313.9 383.8 313.2M376.8 315.3 378.2 317.4M373.8 313.8 377.5 315.3 381.0 314.6M379.6 326.4 382.4 323.6 383.8 321.5M380.3 326.8 383.0 324.0M386.5 358.3 388.6 356.2 390.0 359.0 388.6 361.8 386.5 360.4ZM281.8 308.0 283.9 310.8 286.0 314.3 288.8 317.8 291.5 319.9 293.6 317.8 292.9 312.2 292.9 308.0 295.7 305.3 298.5 302.5 299.9 298.3 301.9 294.2 305.4 292.8 308.2 290.7 310.3 287.2 311.7 289.3 315.1 287.9 318.6 286.5 322.1 285.6 324.9 284.9 323.5 281.7 321.4 278.9 320.0 277.2M324.9 284.9 326.9 287.2 329.0 290.0 331.1 289.3 332.5 288.6 336.7 286.5 342.2 285.1 347.1 284.4 351.9 283.0 355.4 281.0 357.5 278.9 361.0 281.0 364.4 283.0 361.0 285.8 356.8 284.9 353.3 286.5 350.6 288.6 348.5 291.4 346.4 294.9 345.7 292.8 347.1 290.0M331.1 289.3 328.3 294.2 326.9 299.0 327.6 303.9 328.3 308.0 330.4 310.1 329.0 313.6 326.9 317.8 325.6 321.9 324.2 326.1 322.8 328.2 321.4 324.7 322.1 321.2 324.9 317.8 326.2 313.6 324.9 309.4 322.8 306.0 318.6 306.0 315.1 307.4 312.4 310.8 311.7 314.3 314.4 315.0 310.3 317.8 306.8 319.9 303.3 322.6 302.6 326.1 306.1 327.5 306.8 331.0 306.1 333.8 302.6 334.4 299.9 333.0 299.2 328.9 297.8 324.7 298.5 320.6 296.4 317.8M326.9 317.8 329.7 315.7 333.2 315.7 334.6 320.6 333.9 324.7 331.8 326.8 332.5 330.3 336.0 330.3 338.0 328.2 337.4 326.8 334.6 327.5 333.2 324.7M281.8 308.0 280.4 312.9 279.0 318.5 280.4 321.9 283.9 324.7 284.6 327.5M283.9 324.7 287.4 324.7 290.8 326.1 295.0 328.2 296.4 324.0 295.0 320.6 293.6 317.8M359.9 416.8 363.3 418.9 367.5 416.8 371.7 414.0 376.5 411.9 380.7 410.6 383.5 409.9 386.9 411.9 391.1 414.7 394.6 418.2 392.5 421.0 390.4 423.8 389.0 426.5 391.8 424.4 394.6 423.1 396.7 425.8 398.8 423.8 400.8 424.4 402.9 421.7 405.0 421.7 402.2 416.1 399.4 410.6 396.7 407.8 397.4 413.3 398.1 417.5 398.8 421.7 400.8 424.4 403.6 427.2 406.4 431.4 407.8 435.6 409.9 437.6 407.8 439.7 407.8 443.9 407.1 449.4 405.7 455.0 402.2 457.8 398.1 458.5 393.9 460.6 389.7 459.2 385.6 458.5 382.1 457.1 378.6 455.7 375.8 453.6 371.7 456.4 374.4 452.2 377.2 452.2 374.4 448.8 373.1 446.0 370.3 448.1 368.2 452.2 366.8 448.8 368.9 445.3 365.4 443.2 362.6 441.1 360.6 441.8 362.6 438.3 362.6 434.2 361.2 431.4 359.9 428.6 357.8 425.8 355.7 423.1 353.6 421.0 355.7 417.5ZM397.0 408.6 398.0 413.5 398.9 418.0 399.6 421.5M430.6 374.0 431.2 376.8 434.0 379.6 438.2 381.0 443.1 381.0 447.2 380.3 449.3 381.7 452.1 380.3 454.9 378.6 456.9 378.2 456.2 381.7 454.2 384.4 451.4 385.8 452.1 388.6 454.2 390.7 452.8 393.5 449.3 394.2 447.2 395.6 450.7 396.9 453.5 396.2 454.9 399.0 452.1 400.4 449.3 401.1 452.8 401.8 455.6 401.8 456.9 405.3 456.9 409.4 458.3 405.3 459.7 401.1 460.4 395.6 462.5 392.8 464.6 391.4 463.9 387.2 461.8 383.8 459.0 381.0 458.3 378.9 462.5 376.1 467.4 372.6 472.2 369.2 476.4 366.4 480.6 365.0 484.7 366.4 488.9 369.2 493.1 372.6 497.2 375.4 494.4 378.9 492.4 382.4 493.1 387.2 494.4 391.4 495.8 396.9 496.5 402.5 495.8 405.3 495.1 405.3 492.4 409.4 488.9 410.1 484.7 410.8 480.6 413.6 477.1 417.8 475.7 423.3 477.8 426.2 481.9 428.3 486.1 430.4 488.9 433.9 488.9 438.1 486.1 441.5 481.9 442.2 477.8 443.6 473.6 446.4 470.1 448.5 468.1 451.2 471.5 452.6 475.0 454.0 472.9 456.8 475.0 460.3 474.3 463.8 471.5 465.1 468.1 467.2 464.6 465.8 461.1 464.4 459.0 461.7 456.2 459.6 452.1 457.5 447.2 456.4 451.4 455.4 454.9 455.4 453.5 452.6 456.9 451.2 454.9 449.2 452.8 445.7 450.0 445.7 447.2 447.1 442.4 445.7 438.2 445.0 433.3 446.4 429.2 444.3 432.6 438.8 429.9 441.5 427.8 438.8 425.0 436.0 421.5 433.9 422.9 431.1 426.4 429.0 427.1 424.2 426.4 426.1 425.7 422.6 423.6 420.6 422.2 417.8 425.0 415.7 424.3 411.5 422.2 408.1 418.1 407.4 413.9 405.3 418.8 406.0 422.2 405.3 418.1 402.5 413.9 401.1 409.7 398.6 413.9 398.3 418.1 399.7 422.2 399.0 425.7 397.6 428.5 397.6 431.2 398.3 434.0 396.9 436.1 394.9 434.7 392.8 436.1 390.0 440.3 390.0 442.4 387.9 444.4 384.4 443.1 381.0M430.8 373.9 431.2 376.8 433.9 379.9 436.1 380.2 438.2 381.0 440.6 380.9 443.1 381.1 447.1 380.4 449.3 381.8 452.2 380.5 454.9 378.7 457.0 378.2 456.3 381.7 454.2 384.3 451.3 385.8 452.2 388.5 454.0 390.6 452.8 393.5 449.2 394.1 447.3 395.4 450.7 396.8 453.8 396.1 454.9 399.0 452.1 400.5 449.3 401.0 452.8 401.6 455.4 401.9 456.8 405.3 456.8 409.4 458.3 405.3 458.8 403.1 460.0 401.1 460.3 398.4 460.4 395.6 462.4 392.6 464.9 391.4 463.8 387.3 461.6 383.9 459.0 381.0 458.3 378.8 460.5 377.7 462.4 375.9 464.8 374.1 467.4 372.6 469.6 370.7 472.3 369.3 474.3 367.8 476.5 366.6 478.6 365.9 480.7 364.8 484.6 366.5 486.8 367.8 488.7 369.4 491.2 370.7 493.1 372.6 495.0 374.2 497.4 375.6 495.9 377.2 494.5 379.0 492.5 382.4 492.5 384.8 493.3 387.1 494.2 391.4 495.2 394.1 495.6 396.9 496.4 399.7 496.7 402.6 495.8 405.0 495.3 405.5 493.7 407.3 492.4 409.6 488.9 410.1 484.8 410.9 482.6 412.1 480.5 413.5 478.7 415.6 477.3 417.9 476.2 420.5 475.8 423.2 477.8 426.3 479.8 427.4 481.8 428.4 484.0 429.4 486.1 430.4 487.7 432.0 488.7 433.9 488.9 438.1 487.4 439.7 486.1 441.2 481.9 442.1 477.9 443.7 475.7 445.0 473.7 446.6 470.2 448.6 468.0 451.4 471.5 452.7 475.2 454.1 472.9 456.8 475.1 460.3 474.2 463.6 471.4 464.9 468.1 467.3 464.5 466.0 461.0 464.5 459.0 461.7 456.2 459.7 454.0 458.8 452.1 457.4 449.7 456.9 447.2 456.3 451.4 455.1 454.8 455.4 453.5 452.6 456.7 451.4 454.7 449.3 452.8 446.0 450.1 446.0 447.2 447.0 444.8 446.3 442.4 445.6 438.2 445.1 435.8 445.8 433.2 446.7 431.3 445.2 429.2 444.3 430.7 441.4 432.8 438.9 429.8 441.6 427.8 438.8 425.1 435.9 421.3 433.8 423.0 431.2 426.2 429.0 426.5 426.6 427.0 424.2 426.2 426.1 425.9 422.4 423.7 420.6 422.3 417.9 425.0 415.7 424.5 411.4 422.2 407.9 418.1 407.4 415.9 406.5 413.9 405.4 416.3 405.9 418.7 405.8 422.3 405.2 420.0 404.1 418.2 402.3 416.0 401.8 413.9 401.1 411.8 399.8 409.7 398.6 413.9 398.4 416.0 399.1 418.1 399.6 422.3 399.2 425.7 397.4 428.5 397.7 431.2 398.3 433.8 396.7 436.0 395.0 434.7 392.8 436.1 389.8 440.4 390.1 442.6 388.0 444.5 384.4 443.1 381.0M430.9 374.3 431.9 377.2 434.4 380.2 438.2 381.7M492.4 409.4 495.1 405.3 497.9 408.8 499.3 412.2 495.8 415.7 492.4 412.2ZM461.1 381.7 463.9 380.3 466.7 380.3 468.1 383.0 469.4 387.9 470.1 392.8 471.5 396.9 472.2 401.1 471.5 406.7 468.1 406.7 465.3 405.3 463.2 406.7 464.6 402.5 466.0 398.3 466.7 394.2 466.0 389.3 464.6 385.1 462.5 382.4ZM461.1 464.4 461.8 467.9 465.3 469.3 466.7 472.8 470.8 472.1 473.6 474.2 475.0 476.9 472.2 481.1 469.4 483.9 466.7 486.7 465.3 489.4 464.6 493.6 465.3 497.8 465.3 501.2 463.2 500.6 461.1 496.4 459.7 492.9 460.4 488.8 461.1 484.6 459.0 481.1 456.2 476.9 454.2 474.2 452.8 470.0 454.9 467.2 458.3 466.5ZM453.5 474.9 449.3 472.8 447.2 472.1 449.3 474.9 447.2 478.3 444.4 476.9 441.7 476.9 439.6 474.9 436.8 472.8 434.0 469.3 430.6 466.9 426.4 466.5 422.9 467.2 419.4 469.3 418.1 472.8 419.4 475.6 422.2 472.1 420.8 475.6 425.0 476.9 421.5 478.3 418.8 480.4 415.3 478.3 414.6 476.9 415.3 480.4 417.4 483.2 420.8 485.3 425.0 487.4 429.2 489.4 433.3 492.2 436.8 495.0 440.3 497.1 444.4 498.5 448.6 498.1 444.4 497.1 441.0 495.7 442.4 493.6 445.8 492.2 450.0 491.9 454.2 492.2 457.6 492.9 460.4 493.6M453.5 474.9 455.6 477.6 457.6 481.1 459.0 484.6 458.3 488.1 459.7 490.8 459.7 493.6M442.1 548.0 443.0 540.4 446.6 537.7 451.1 535.0 456.5 534.1 462.9 533.2 469.2 532.3 471.9 531.4 471.0 535.9 472.8 539.5 474.6 538.6 472.8 535.0 473.7 530.5 477.3 526.9 481.8 524.2 484.5 521.5 486.3 517.9 488.1 514.2 489.9 510.6 491.7 507.6 494.5 508.8 499.9 509.7 507.1 510.6 513.4 510.6 517.0 511.5 517.9 516.0 520.6 518.8 521.5 523.3 525.1 526.0 528.8 528.7 532.4 532.3 536.0 533.2 536.9 537.7 539.5 539.5 538.6 536.8 542.2 536.4 546.7 535.0 550.3 533.2 553.1 536.8 555.8 539.5 554.9 544.0 552.2 545.8 550.0 548.0M491.7 508.8 489.0 515.1 486.3 518.8 484.5 523.3 487.2 526.0 489.0 522.4 492.7 519.7 497.2 516.9 501.7 515.1 506.2 514.2 508.0 517.9 509.8 515.1 512.5 512.4 515.2 511.5M517.9 516.0 519.2 517.4 520.1 518.8 521.2 520.2 521.5 521.7 521.3 523.5 522.7 524.2 524.0 524.9 525.2 525.9 526.5 526.7 527.9 527.4 528.7 528.8 529.6 530.3 531.0 531.3 532.3 532.5 534.3 532.5 536.0 533.2M597.3 548.0 607.2 543.1 616.3 539.5 625.3 535.9 633.4 534.1 638.8 533.2 647.0 530.5 656.0 527.4 663.4 526.7" fill="none" stroke="#5a5a5a" stroke-width="1.7" stroke-linejoin="round" stroke-linecap="round"/>
<path d="M162.4 150.4 164.0 151.6 165.0 153.3 166.8 153.6 168.8 154.3 169.8 155.8 170.6 157.4 172.1 158.7 173.6 160.1 175.4 160.2 176.2 161.6 177.6 162.2 179.4 163.0 181.1 163.9 182.7 164.8 183.9 166.7 185.7 167.6 187.6 168.6 188.9 169.3 190.8 168.9 192.0 169.8 193.2 170.8 194.6 171.4 195.9 172.1 197.3 172.6 199.1 171.7 200.2 173.1 201.6 173.7 203.0 173.8 204.8 173.9 205.3 175.4M208.0 180.2 209.5 179.6 210.9 178.6 212.9 179.4 215.1 178.7 213.2 179.9 211.8 182.3 214.0 182.0 214.9 183.6 216.5 184.6 217.8 182.9 220.0 182.8 221.5 184.0 223.4 184.4 222.6 186.1 223.1 188.3 221.6 189.9 220.3 190.9 221.6 192.8 222.6 194.4 223.5 195.9 224.5 197.8 224.5 195.8 225.8 194.4 225.4 192.2 226.6 190.4 228.4 189.9 229.3 188.8 230.8 190.2 231.4 191.3 234.8 190.5 235.6 191.9 235.9 193.1 237.4 194.4 239.4 193.7 240.9 195.2 242.5 195.5 244.5 194.9 245.4 196.2 246.2 194.1 247.6 191.5 248.1 193.4 249.3 195.6 250.1 193.6 251.9 193.6 253.6 190.8 255.4 190.8 257.0 190.7 258.2 188.8 259.9 187.7 261.7 187.5 263.6 188.0 265.4 187.8 265.7 189.0 267.1 187.5 268.4 186.3 268.7 184.3 269.8 182.9 271.1 181.8 271.2 180.5 271.6 178.4 270.5 176.7 270.5 174.8 271.4 176.7 274.1 177.2 273.9 179.6 274.5 181.8 276.2 182.7 276.5 184.1 278.6 183.6 278.4 182.5 280.4 182.8 282.1 181.1 282.8 179.6 283.9 177.4 286.0 176.9 286.1 174.6 287.7 173.1 290.0 171.2M204.9 177.1 206.1 177.9 206.9 179.1 208.5 179.5 209.2 181.7 210.5 181.4 211.8 180.7 213.7 179.5 214.0 181.4 215.3 182.4 216.0 183.4 217.7 185.1 219.3 185.2 222.0 183.5 220.9 185.7 222.1 186.8 223.3 188.1 222.8 189.6 221.3 190.5 221.1 191.9 221.7 193.3 222.7 194.3 223.2 194.6 225.2 194.0 226.4 192.9 226.5 192.0 227.5 190.6 228.2 188.7 230.8 188.2 231.6 189.4 231.3 191.7 233.2 191.6 234.4 192.2 235.1 193.9 236.9 193.1 238.0 194.1 239.5 194.2 241.3 193.7 242.5 195.3 244.3 196.3 245.0 194.2 246.4 193.9 247.9 193.8 248.8 192.5 250.5 193.0 252.0 193.2 253.2 192.3 254.3 191.4 255.9 191.5 256.4 189.4 258.0 189.7 259.4 188.8 261.1 189.0 262.3 187.5 264.4 188.6 264.8 186.3 266.2 185.7 268.6 185.9 269.6 185.0 269.4 183.2 270.1 182.0 270.4 180.9 270.8 179.5 271.9 178.4 272.7 176.6 273.5 177.8 273.6 179.4 274.9 180.3 275.0 182.4 276.3 182.8 277.7 182.7 279.0 182.0 279.8 180.8 280.9 180.1 281.2 178.5 283.4 178.9 283.7 177.2 284.7 176.2 285.3 174.8 286.9 174.4 288.1 173.6 288.8 172.2 290.0 171.2M289.9 171.1 291.3 170.8 292.9 171.0 293.5 169.3 294.5 168.3 295.6 167.3 295.9 165.3 297.8 165.0 299.5 164.1 300.7 163.2 300.2 160.9 301.5 160.1 302.0 158.6 304.4 158.6 305.1 157.2 304.7 155.0 307.5 155.4 308.1 154.5 308.9 153.1 310.0 152.4 310.4 150.7 311.3 149.5 313.3 149.6 313.4 148.1 314.4 146.8 315.2 145.5 315.3 144.6 316.2 143.0 316.0 141.7 316.9 140.2 315.8 138.9 316.6 140.5 317.9 141.7 319.3 141.1 320.2 139.7 321.0 138.5 323.5 138.6 324.6 137.5 325.5 136.1 326.4 134.9 326.9 133.2 327.7 132.2 328.9 130.9 330.2 131.0 328.9 129.0 327.2 129.7 325.7 128.3 324.2 129.3 323.0 127.6 322.0 129.1 321.5 126.5 323.5 125.6 325.1 127.5 326.7 126.3 328.5 127.6 330.0 125.8 331.2 124.7 333.1 125.3 334.5 124.9 334.9 123.2 335.9 121.5 337.7 120.5 339.8 120.7 340.3 119.4 340.7 119.0 339.3 118.5 337.9 118.6 336.5 118.5 335.4 116.4 333.8 117.8 332.6 116.8 333.4 115.2 334.3 113.2 336.5 113.8 337.6 111.6 339.9 112.1 340.6 111.5 340.8 110.0 339.8 109.0 339.4 107.7 338.7 107.3 340.4 107.8 342.5 107.7 344.0 109.9 345.0 107.6 346.9 107.4 348.6 107.7 349.6 106.6 350.1 104.7 352.5 106.0 353.2 103.5 354.6 103.3 356.2 104.4 357.6 103.1 359.1 103.5 360.7 103.4 361.5 103.8 363.1 104.9 364.3 103.8 365.8 104.5 367.1 103.7 368.4 103.8 369.8 104.9 371.0 103.6M290.0 171.2 291.9 170.6 293.9 169.6 294.4 167.2 295.8 165.2 297.6 164.7 298.8 163.6 301.0 162.5 302.2 160.6 303.5 158.8 304.8 157.0 306.3 155.4 307.1 152.9 309.2 152.3 310.6 150.9 313.2 150.6 313.6 148.2 316.0 146.8 315.7 144.5 316.6 142.5 315.7 140.8 316.0 138.8 316.3 140.7 317.3 140.9 319.1 139.6 322.0 139.5 323.2 137.2 324.4 134.8 327.2 134.8 329.0 133.1 328.7 130.8 330.4 130.1 327.9 130.3 325.5 129.6 323.5 128.6 320.9 128.0 323.5 126.8 325.9 125.5 328.2 125.8 330.2 126.7 331.7 125.5 333.5 124.5 335.4 123.7 336.6 122.2 337.8 120.6 338.7 118.7 340.9 117.6 338.9 116.8 336.9 116.5 334.7 116.7 332.3 116.5 333.3 115.1 334.7 114.3 336.4 113.5 337.7 111.8 339.6 111.3 341.2 111.2 340.8 109.5 340.7 107.6 339.4 106.3 342.0 106.8 343.8 109.6 345.2 108.2 347.0 107.6 348.5 106.1 350.5 105.5 353.3 104.0 355.5 104.4 357.8 102.7 359.6 104.3 361.6 104.3 363.8 104.9 365.7 103.3 367.5 103.6 369.2 103.5 371.0 103.6M423.3 103.3 422.4 105.3 422.9 107.1 423.9 108.0 425.2 108.9 424.6 110.1 423.9 111.9 423.9 113.9 424.1 115.3 425.0 116.5 424.2 116.9 426.2 117.1 427.8 116.6 428.6 118.4 426.5 119.2 427.3 121.0 426.9 122.6 426.8 124.4 424.6 126.6 426.3 127.2 427.2 128.1 428.4 129.6 430.4 130.8 430.5 132.8 430.8 134.7 431.9 133.4 433.9 134.8 435.2 133.5 434.8 134.9 432.7 134.9 433.1 137.0 430.5 137.3 431.4 138.9 430.9 140.3 431.1 141.9 429.8 143.1 429.5 144.6 429.5 146.4 427.8 148.8 429.6 147.6 430.2 148.9 432.1 149.7 432.4 152.5 434.1 152.0 435.3 150.3 434.1 151.4 433.2 152.9 432.0 153.7 431.2 155.7 429.5 155.6 428.0 157.0 428.0 159.0M421.7 103.7 423.5 105.1 423.9 106.5 423.5 109.1 425.8 110.6 425.2 112.4 423.6 113.9 424.5 115.9 424.9 118.7 426.1 116.9 427.2 116.5 427.7 118.8 426.5 120.7 425.3 123.0 425.1 126.0 426.2 127.4 427.7 127.9 429.5 129.2 428.8 131.5 430.0 133.0 430.7 134.4 432.7 133.5 434.5 132.9 433.7 134.6 432.1 135.6 431.0 137.4 430.3 139.5 430.7 141.6 428.4 144.3 428.2 146.1 428.1 147.5 430.1 149.0 432.1 151.1 434.0 151.5 435.1 150.1 433.8 152.3 432.5 154.8 428.9 155.4 428.4 157.2 428.0 159.0M427.8 163.8 429.9 162.4 431.2 161.3 431.7 159.2 433.7 158.4 434.9 156.8 436.4 155.9 437.4 154.4 438.9 153.4 440.7 152.8 440.3 154.4 439.3 155.6 439.3 157.2 438.5 159.2 436.7 161.0 436.5 163.2 435.7 165.3 436.4 166.9 437.6 167.8 438.2 166.2 440.3 165.6 441.0 164.0 442.2 162.6 442.8 161.2 444.1 160.1 443.8 158.3 444.8 156.3 444.5 154.2 444.8 152.3 445.0 150.5 445.0 148.5 446.1 149.7 446.1 151.4 446.4 152.9 447.0 154.9 447.4 156.8 449.0 155.8 452.2 155.1 451.5 156.8 450.6 158.4 449.1 159.4 449.4 161.3 448.8 162.8 447.7 163.2 450.1 163.8 453.1 163.5 455.1 164.7 457.3 165.9 458.7 164.8 460.2 164.6 461.7 164.6M429.1 154.5 428.5 155.8 427.5 157.0 426.6 158.3 427.6 160.4 427.1 161.8 428.5 162.5 429.6 163.9 431.5 163.4 432.3 165.2 433.7 166.0 435.9 166.4 435.9 168.1 436.8 169.4 437.6 170.8 436.3 172.1 437.7 173.7 437.6 174.9 436.2 176.5 437.3 177.8 437.9 179.3 437.4 181.3 436.9 183.2 437.0 185.5 439.3 186.9 438.9 188.7 437.9 190.4 439.3 191.7 440.0 193.0 440.2 195.1 441.0 197.1 442.3 198.7 442.5 201.2 443.8 202.5 445.4 202.0 447.2 202.7 448.7 202.5 450.1 201.6 450.9 199.9 452.1 199.4 452.4 200.8 453.6 202.0 453.1 203.4 453.1 205.4 452.7 207.1 451.7 208.4 451.3 209.8 450.8 211.0 451.0 212.9 451.3 214.4 450.5 216.0 449.9 218.4 450.8 220.2 452.1 221.4 452.6 223.3 451.7 224.4 453.4 224.7 454.7 224.1 455.8 223.7 457.3 224.8 457.6 226.2 457.0 228.3 458.8 229.3 460.0 230.7 461.5 231.7 461.4 233.3 461.0 234.8 461.6 236.5 461.2 238.3 462.7 240.1 461.9 242.0 461.0 243.9 460.9 246.7 460.3 248.8 460.7 250.9 462.3 251.5 463.2 252.7 463.1 255.0 465.4 254.8 465.9 256.2 466.8 254.9 468.1 253.8 469.1 252.3 468.7 250.4 469.0 248.5 469.2 246.7M599.6 361.2 600.6 362.0 601.6 362.6 602.4 364.4 604.4 363.8 606.3 364.6 606.9 362.9 608.4 363.3 609.7 363.5 611.4 362.5 613.3 363.1 614.6 362.7 615.8 361.4 617.1 360.3 618.6 361.9 619.9 360.4 621.6 360.1 622.7 361.9 624.0 362.5 625.2 362.7 626.2 363.6 628.2 362.9 629.6 363.5 630.6 364.6 631.9 366.9 631.5 364.4 633.6 362.9 634.9 363.3 636.0 364.0 635.8 365.2 636.9 364.3 636.9 363.0 637.8 361.8 639.8 361.9 639.9 359.7 641.3 360.0 642.7 360.3 644.3 360.4 645.6 360.9 646.9 361.7 648.4 361.8 650.1 361.5 651.2 362.2 652.4 362.5 653.5 363.4 652.6 365.0 654.2 365.9 655.3 366.8 654.7 368.3 654.8 369.7 656.0 370.3 657.2 369.4 656.7 367.5 657.4 366.3 659.2 365.7 658.5 364.0 659.5 363.0 660.2 361.8 660.4 360.3 660.9 358.9 661.7 357.6 663.4 357.0M450.0 201.5 451.5 200.7 452.2 199.4 452.2 200.8 453.4 202.0 452.5 203.2 452.5 205.2 451.5 206.8 451.0 208.2 450.3 209.5 451.0 211.0 451.5 212.8 451.5 214.5 451.1 216.2 450.2 218.2 451.5 219.0 451.2 220.7 453.5 221.7 451.9 223.2 451.8 224.8 453.0 223.7 454.8 224.4 456.9 223.3 457.0 224.8 457.3 226.3 457.9 227.4 458.9 228.3 459.9 229.1 459.7 230.8 461.5 231.7 461.8 233.1 462.5 234.6 461.1 236.1 461.9 237.4 461.5 238.7 461.4 239.9 462.0 241.3 461.9 242.7 461.5 244.0" fill="none" stroke="#5a5a5a" stroke-width="2.3" stroke-linejoin="round" stroke-linecap="round"/>
<path d="M599.2 328.8 599.9 332.9 598.5 337.8 597.8 341.9 599.9 347.5 601.9 352.4 603.3 355.8 602.6 361.4" fill="none" stroke="#5a5a5a" stroke-width="0.6" stroke-linejoin="round"/>
<path d="M149.6 103.8 155.8 103.8 156.5 108.0 153.5 112.5 150.2 111.5ZM157.2 108.3 160.9 108.3 158.4 118.5ZM162.8 151.4 166.0 150.5 169.0 153.0 171.1 158.3 167.0 156.5 164.0 155.5ZM321.0 127.5 330.0 125.5 331.5 128.5 330.4 130.5 325.0 130.0ZM333.0 113.5 341.0 110.5 341.5 117.0 338.0 119.5 333.0 117.3ZM315.0 139.0 318.5 140.0 317.0 146.0 314.0 149.5 312.0 150.0ZM301.0 158.5 309.0 151.0 311.0 153.0 304.0 160.5ZM440.0 183.5 447.0 181.5 452.0 183.0 456.0 186.5 450.0 188.0 444.0 189.0 439.0 188.0ZM428.0 160.0 433.0 158.0 436.0 160.0 437.0 167.0 433.0 166.0 428.0 163.0ZM437.0 168.0 441.0 166.0 444.0 170.0 440.0 174.0 437.5 173.0ZM487.4 105.6 488.8 109.7 490.8 113.2 490.1 117.4 487.4 120.1 488.0 123.6 490.8 122.2 492.2 119.4 491.5 113.0 489.5 108.0ZM497.0 152.0 495.0 155.0 493.0 159.0 493.6 161.0 495.7 158.3 497.8 154.2ZM291.5 317.0 296.0 316.0 297.5 320.0 296.0 324.0 293.0 322.0 291.0 320.0ZM278.5 312.0 281.5 309.0 281.5 316.0 280.0 322.0 278.5 320.0ZM353.6 419.0 358.0 418.0 360.0 422.0 357.8 425.8 355.0 423.5ZM381.5 409.0 384.0 408.7 385.0 411.5 382.0 411.5ZM465.3 405.3 468.1 406.7 471.5 406.7 472.0 402.0 469.0 400.0 466.5 401.5ZM452.5 381.0 456.5 379.0 456.0 383.0 453.5 385.0ZM409.7 398.3 414.0 397.6 418.0 399.2 414.0 400.5ZM413.9 405.0 418.5 405.2 422.0 406.2 418.0 407.8ZM447.0 394.6 451.0 394.0 453.0 396.5 449.5 397.3ZM449.0 400.5 453.0 400.0 455.5 402.0 452.0 402.6ZM414.6 476.5 419.0 477.5 421.0 479.0 418.5 480.8 415.3 479.5ZM492.7 513.5 500.0 512.0 508.0 511.5 512.0 512.2 507.0 514.5 499.0 515.5 493.0 518.0ZM442.1 541.0 445.0 543.5 446.5 546.0 443.5 548.0 442.0 546.0Z" fill="#5a5a5a" stroke="#5a5a5a" stroke-width="0.8" stroke-linejoin="round"/>
</g>
<rect x="72.6" y="102.60" width="590.8" height="445.40" fill="none" stroke="#5e5e5e" stroke-width="2.9"/>
<path d="M72.60 102.60v-12 M72.60 548.00v12 M97.22 102.60v-6 M97.22 548.00v6 M121.83 102.60v-6 M121.83 548.00v6 M146.45 102.60v-6 M146.45 548.00v6 M171.07 102.60v-12 M171.07 548.00v12 M195.68 102.60v-6 M195.68 548.00v6 M220.30 102.60v-6 M220.30 548.00v6 M244.92 102.60v-6 M244.92 548.00v6 M269.53 102.60v-12 M269.53 548.00v12 M294.15 102.60v-6 M294.15 548.00v6 M318.77 102.60v-6 M318.77 548.00v6 M343.38 102.60v-6 M343.38 548.00v6 M368.00 102.60v-12 M368.00 548.00v12 M392.62 102.60v-6 M392.62 548.00v6 M417.23 102.60v-6 M417.23 548.00v6 M441.85 102.60v-6 M441.85 548.00v6 M466.47 102.60v-12 M466.47 548.00v12 M491.08 102.60v-6 M491.08 548.00v6 M515.70 102.60v-6 M515.70 548.00v6 M540.32 102.60v-6 M540.32 548.00v6 M564.93 102.60v-12 M564.93 548.00v12 M589.55 102.60v-6 M589.55 548.00v6 M614.17 102.60v-6 M614.17 548.00v6 M638.78 102.60v-6 M638.78 548.00v6 M663.40 102.60v-12 M663.40 548.00v12 M72.6 548.00h-12 M663.4 548.00h12 M72.6 506.00h-6 M663.4 506.00h6 M72.6 463.48h-6 M663.4 463.48h6 M72.6 420.42h-6 M663.4 420.42h6 M72.6 376.82h-12 M663.4 376.82h12 M72.6 332.65h-6 M663.4 332.65h6 M72.6 287.89h-6 M663.4 287.89h6 M72.6 242.53h-6 M663.4 242.53h6 M72.6 196.54h-12 M663.4 196.54h12 M72.6 149.90h-6 M663.4 149.90h6 M72.6 102.60h-6 M663.4 102.60h6" stroke="#5e5e5e" stroke-width="1.45" fill="none"/>
<text x="73.40" y="583.6" font-family="Liberation Mono, monospace" font-size="16.6" fill="#686868" text-anchor="middle">4°</text>
<text x="171.87" y="583.6" font-family="Liberation Mono, monospace" font-size="16.6" fill="#686868" text-anchor="middle">6°</text>
<text x="270.33" y="583.6" font-family="Liberation Mono, monospace" font-size="16.6" fill="#686868" text-anchor="middle">8°</text>
<text x="368.80" y="583.6" font-family="Liberation Mono, monospace" font-size="16.6" fill="#686868" text-anchor="middle">10°</text>
<text x="467.27" y="583.6" font-family="Liberation Mono, monospace" font-size="16.6" fill="#686868" text-anchor="middle">12°</text>
<text x="565.73" y="583.6" font-family="Liberation Mono, monospace" font-size="16.6" fill="#686868" text-anchor="middle">14°</text>
<text x="664.20" y="583.6" font-family="Liberation Mono, monospace" font-size="16.6" fill="#686868" text-anchor="middle">16°</text>
<text x="49.6" y="554.00" font-family="Liberation Mono, monospace" font-size="16.6" fill="#686868" text-anchor="end">54°</text>
<text x="49.6" y="382.82" font-family="Liberation Mono, monospace" font-size="16.6" fill="#686868" text-anchor="end">56°</text>
<text x="49.6" y="202.54" font-family="Liberation Mono, monospace" font-size="16.6" fill="#686868" text-anchor="end">58°</text>
<text x="196.2" y="35.8" font-family="Liberation Sans, sans-serif" font-size="20.6" fill="#5a5a5a" stroke="#5a5a5a" stroke-width="0.3" textLength="346" lengthAdjust="spacingAndGlyphs">FennoscandianBorderZone – diffbeta</text>
<rect x="72.60" y="594" width="19.99" height="14.5" fill="rgb(0,0,255)" shape-rendering="crispEdges"/>
<rect x="92.29" y="594" width="19.99" height="14.5" fill="rgb(17,17,255)" shape-rendering="crispEdges"/>
<rect x="111.99" y="594" width="19.99" height="14.5" fill="rgb(34,34,255)" shape-rendering="crispEdges"/>
<rect x="131.68" y="594" width="19.99" height="14.5" fill="rgb(51,51,255)" shape-rendering="crispEdges"/>
<rect x="151.37" y="594" width="19.99" height="14.5" fill="rgb(68,68,255)" shape-rendering="crispEdges"/>
<rect x="171.07" y="594" width="19.99" height="14.5" fill="rgb(85,85,255)" shape-rendering="crispEdges"/>
<rect x="190.76" y="594" width="19.99" height="14.5" fill="rgb(102,102,255)" shape-rendering="crispEdges"/>
<rect x="210.45" y="594" width="19.99" height="14.5" fill="rgb(119,119,255)" shape-rendering="crispEdges"/>
<rect x="230.15" y="594" width="19.99" height="14.5" fill="rgb(136,136,255)" shape-rendering="crispEdges"/>
<rect x="249.84" y="594" width="19.99" height="14.5" fill="rgb(153,153,255)" shape-rendering="crispEdges"/>
<rect x="269.53" y="594" width="19.99" height="14.5" fill="rgb(170,170,255)" shape-rendering="crispEdges"/>
<rect x="289.23" y="594" width="19.99" height="14.5" fill="rgb(187,187,255)" shape-rendering="crispEdges"/>
<rect x="308.92" y="594" width="19.99" height="14.5" fill="rgb(204,204,255)" shape-rendering="crispEdges"/>
<rect x="328.61" y="594" width="19.99" height="14.5" fill="rgb(221,221,255)" shape-rendering="crispEdges"/>
<rect x="348.31" y="594" width="19.99" height="14.5" fill="rgb(238,238,255)" shape-rendering="crispEdges"/>
<rect x="368.00" y="594" width="19.99" height="14.5" fill="rgb(255,255,255)" shape-rendering="crispEdges"/>
<rect x="387.69" y="594" width="19.99" height="14.5" fill="rgb(255,238,238)" shape-rendering="crispEdges"/>
<rect x="407.39" y="594" width="19.99" height="14.5" fill="rgb(255,221,221)" shape-rendering="crispEdges"/>
<rect x="427.08" y="594" width="19.99" height="14.5" fill="rgb(255,204,204)" shape-rendering="crispEdges"/>
<rect x="446.77" y="594" width="19.99" height="14.5" fill="rgb(255,187,187)" shape-rendering="crispEdges"/>
<rect x="466.47" y="594" width="19.99" height="14.5" fill="rgb(255,170,170)" shape-rendering="crispEdges"/>
<rect x="486.16" y="594" width="19.99" height="14.5" fill="rgb(255,153,153)" shape-rendering="crispEdges"/>
<rect x="505.85" y="594" width="19.99" height="14.5" fill="rgb(255,136,136)" shape-rendering="crispEdges"/>
<rect x="525.55" y="594" width="19.99" height="14.5" fill="rgb(255,119,119)" shape-rendering="crispEdges"/>
<rect x="545.24" y="594" width="19.99" height="14.5" fill="rgb(255,102,102)" shape-rendering="crispEdges"/>
<rect x="564.93" y="594" width="19.99" height="14.5" fill="rgb(255,85,85)" shape-rendering="crispEdges"/>
<rect x="584.63" y="594" width="19.99" height="14.5" fill="rgb(255,68,68)" shape-rendering="crispEdges"/>
<rect x="604.32" y="594" width="19.99" height="14.5" fill="rgb(255,51,51)" shape-rendering="crispEdges"/>
<rect x="624.01" y="594" width="19.99" height="14.5" fill="rgb(255,34,34)" shape-rendering="crispEdges"/>
<rect x="643.71" y="594" width="19.99" height="14.5" fill="rgb(255,17,17)" shape-rendering="crispEdges"/>
<rect x="72.6" y="592.75" width="590.8" height="17" fill="none" stroke="#5e5e5e" stroke-width="2.5"/>
<path d="M72.60 610v12.5 M92.29 610v6.3 M111.99 610v6.3 M131.68 610v6.3 M151.37 610v6.3 M171.07 610v12.5 M190.76 610v6.3 M210.45 610v6.3 M230.15 610v6.3 M249.84 610v6.3 M269.53 610v12.5 M289.23 610v6.3 M308.92 610v6.3 M328.61 610v6.3 M348.31 610v6.3 M368.00 610v12.5 M387.69 610v6.3 M407.39 610v6.3 M427.08 610v6.3 M446.77 610v6.3 M466.47 610v12.5 M486.16 610v6.3 M505.85 610v6.3 M525.55 610v6.3 M545.24 610v6.3 M564.93 610v12.5 M584.63 610v6.3 M604.32 610v6.3 M624.01 610v6.3 M643.71 610v6.3 M663.40 610v12.5" stroke="#5e5e5e" stroke-width="1.5" fill="none"/>
<text x="72.60" y="645.6" font-family="Liberation Mono, monospace" font-size="16.6" fill="#686868" text-anchor="middle">−1.5</text>
<text x="171.07" y="645.6" font-family="Liberation Mono, monospace" font-size="16.6" fill="#686868" text-anchor="middle">−1.0</text>
<text x="269.53" y="645.6" font-family="Liberation Mono, monospace" font-size="16.6" fill="#686868" text-anchor="middle">−0.5</text>
<text x="368.00" y="645.6" font-family="Liberation Mono, monospace" font-size="16.6" fill="#686868" text-anchor="middle">0.0</text>
<text x="466.47" y="645.6" font-family="Liberation Mono, monospace" font-size="16.6" fill="#686868" text-anchor="middle">0.5</text>
<text x="564.93" y="645.6" font-family="Liberation Mono, monospace" font-size="16.6" fill="#686868" text-anchor="middle">1.0</text>
<text x="663.40" y="645.6" font-family="Liberation Mono, monospace" font-size="16.6" fill="#686868" text-anchor="middle">1.5</text>
<text x="677.5" y="610" font-family="Liberation Mono, monospace" font-size="16.6" fill="#686868">[</text>
<text x="693.8" y="610" font-family="Liberation Mono, monospace" font-size="16.6" fill="#686868">]</text>
<text x="686" y="609" font-family="Liberation Sans, sans-serif" font-size="16.5" font-weight="bold" fill="#5a5a5a">β</text>
<text transform="translate(314.8,687) scale(0.8,1)" font-family="Liberation Sans, sans-serif" font-size="19" fill="#5a5a5a" stroke="#5a5a5a" stroke-width="0.3">β</text>
<text x="323.5" y="689.7" font-family="Liberation Sans, sans-serif" font-size="11.5" fill="#5a5a5a" stroke="#5a5a5a" stroke-width="0.2" textLength="47.5" lengthAdjust="spacingAndGlyphs">sediment</text>
<text x="375" y="685.6" font-family="Liberation Sans, sans-serif" font-size="16" fill="#5a5a5a">–</text>
<text transform="translate(389.6,687) scale(0.8,1)" font-family="Liberation Sans, sans-serif" font-size="19" fill="#5a5a5a" stroke="#5a5a5a" stroke-width="0.3">β</text>
<text x="398.6" y="689.7" font-family="Liberation Sans, sans-serif" font-size="11.5" fill="#5a5a5a" stroke="#5a5a5a" stroke-width="0.2" textLength="24.4" lengthAdjust="spacingAndGlyphs">crust</text>
<rect x="267.7" y="725" width="200.60" height="6.2" fill="#fff" stroke="#5e5e5e" stroke-width="1.4"/>
<rect x="267.7" y="725" width="50.15" height="6.2" fill="#000"/>
<rect x="368.00" y="725" width="50.15" height="6.2" fill="#000"/>
<path d="M267.7 724.3v13M317.85 724.3v9.7M368.00 724.3v13M418.15 724.3v9.7M468.3 724.3v13" stroke="#5e5e5e" stroke-width="1.4"/>
<text x="267.70" y="757.3" font-family="Liberation Mono, monospace" font-size="16.6" fill="#686868" text-anchor="middle">0</text>
<text x="368.70" y="757.3" font-family="Liberation Mono, monospace" font-size="16.6" fill="#686868" text-anchor="middle">125</text>
<text x="468.00" y="757.3" font-family="Liberation Mono, monospace" font-size="16.6" fill="#686868" text-anchor="middle">250</text>
<text x="357" y="781" font-family="Liberation Sans, sans-serif" font-size="16" fill="#5a5a5a" stroke="#5a5a5a" stroke-width="0.3" textLength="21.5" lengthAdjust="spacingAndGlyphs">km</text>
</svg>
</body></html>
